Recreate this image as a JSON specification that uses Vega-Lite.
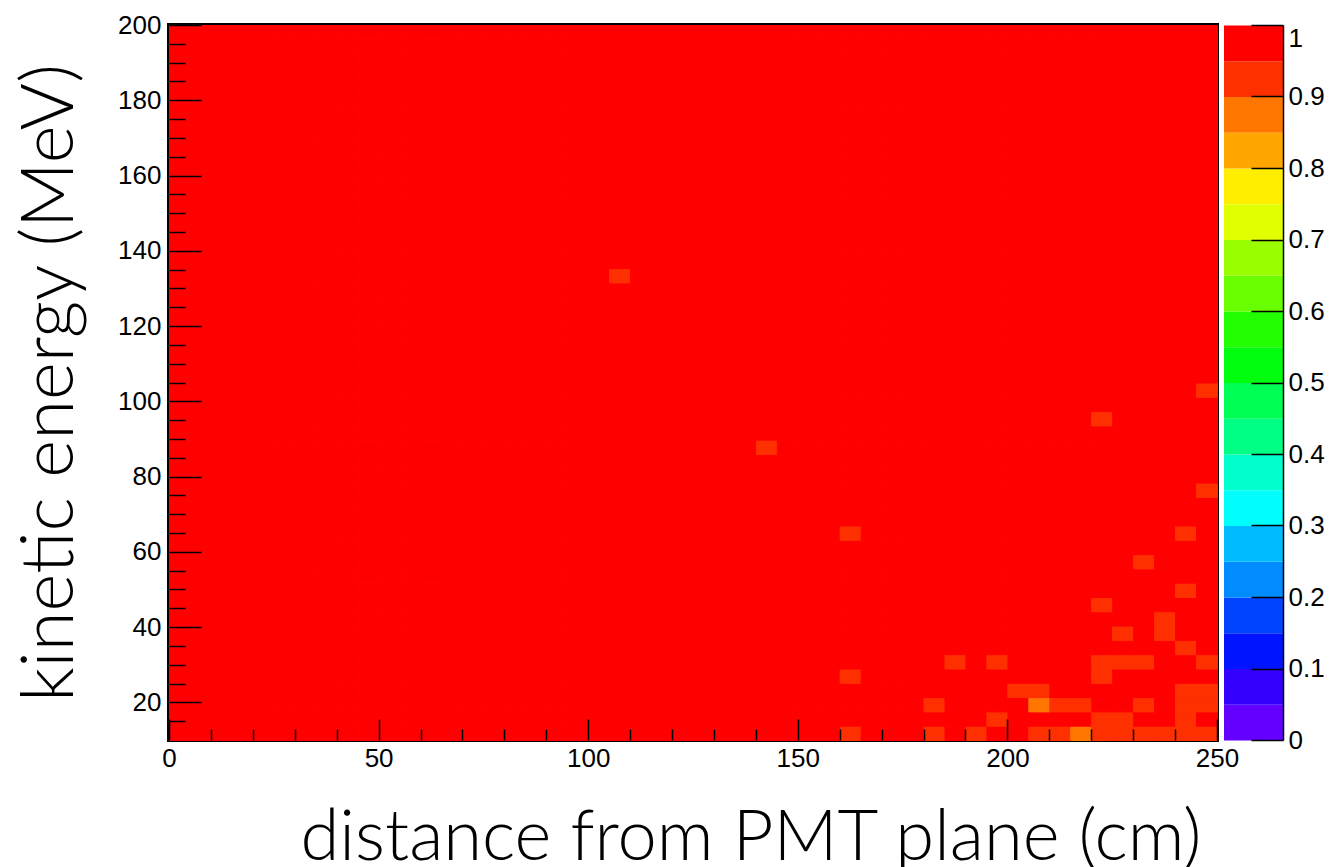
{
"$schema": "https://vega.github.io/schema/vega-lite/v6.json",
"background": "white",
"padding": {"left": 12, "top": 10, "right": 0, "bottom": 0},
"bounds": "flush",
"config": {"view": {"stroke": null}, "axis": {"labelFont": "Liberation Sans", "titleFont": "Lato", "titleFontWeight": 300, "labelColor": "black", "titleColor": "black", "tickColor": "black", "grid": false, "domain": false}},
"datasets": {
"bar": [{"lo":0},{"lo":0.05},{"lo":0.1},{"lo":0.15},{"lo":0.2},{"lo":0.25},{"lo":0.3},{"lo":0.35},{"lo":0.4},{"lo":0.45},{"lo":0.5},{"lo":0.55},{"lo":0.6},{"lo":0.65},{"lo":0.7},{"lo":0.75},{"lo":0.8},{"lo":0.85},{"lo":0.9},{"lo":0.95}],
"cells": [
{"x":0,"y":10,"v":1},{"x":5,"y":10,"v":1},{"x":10,"y":10,"v":1},{"x":15,"y":10,"v":1},{"x":20,"y":10,"v":1},{"x":25,"y":10,"v":1},{"x":30,"y":10,"v":1},{"x":35,"y":10,"v":1},{"x":40,"y":10,"v":1},{"x":45,"y":10,"v":1},{"x":50,"y":10,"v":1},{"x":55,"y":10,"v":1},{"x":60,"y":10,"v":1},{"x":65,"y":10,"v":1},{"x":70,"y":10,"v":1},{"x":75,"y":10,"v":1},{"x":80,"y":10,"v":1},{"x":85,"y":10,"v":1},{"x":90,"y":10,"v":1},{"x":95,"y":10,"v":1},{"x":100,"y":10,"v":1},{"x":105,"y":10,"v":1},{"x":110,"y":10,"v":1},{"x":115,"y":10,"v":1},{"x":120,"y":10,"v":1},{"x":125,"y":10,"v":1},{"x":130,"y":10,"v":1},{"x":135,"y":10,"v":1},{"x":140,"y":10,"v":1},{"x":145,"y":10,"v":1},{"x":150,"y":10,"v":1},{"x":155,"y":10,"v":1},{"x":160,"y":10,"v":0.93},{"x":165,"y":10,"v":1},{"x":170,"y":10,"v":1},{"x":175,"y":10,"v":1},{"x":180,"y":10,"v":0.93},{"x":185,"y":10,"v":1},{"x":190,"y":10,"v":0.93},{"x":195,"y":10,"v":1},{"x":200,"y":10,"v":1},{"x":205,"y":10,"v":0.93},{"x":210,"y":10,"v":0.93},{"x":215,"y":10,"v":0.88},{"x":220,"y":10,"v":0.93},{"x":225,"y":10,"v":0.93},{"x":230,"y":10,"v":0.93},{"x":235,"y":10,"v":0.93},{"x":240,"y":10,"v":0.93},{"x":245,"y":10,"v":0.93},
{"x":0,"y":13.8,"v":1},{"x":5,"y":13.8,"v":1},{"x":10,"y":13.8,"v":1},{"x":15,"y":13.8,"v":1},{"x":20,"y":13.8,"v":1},{"x":25,"y":13.8,"v":1},{"x":30,"y":13.8,"v":1},{"x":35,"y":13.8,"v":1},{"x":40,"y":13.8,"v":1},{"x":45,"y":13.8,"v":1},{"x":50,"y":13.8,"v":1},{"x":55,"y":13.8,"v":1},{"x":60,"y":13.8,"v":1},{"x":65,"y":13.8,"v":1},{"x":70,"y":13.8,"v":1},{"x":75,"y":13.8,"v":1},{"x":80,"y":13.8,"v":1},{"x":85,"y":13.8,"v":1},{"x":90,"y":13.8,"v":1},{"x":95,"y":13.8,"v":1},{"x":100,"y":13.8,"v":1},{"x":105,"y":13.8,"v":1},{"x":110,"y":13.8,"v":1},{"x":115,"y":13.8,"v":1},{"x":120,"y":13.8,"v":1},{"x":125,"y":13.8,"v":1},{"x":130,"y":13.8,"v":1},{"x":135,"y":13.8,"v":1},{"x":140,"y":13.8,"v":1},{"x":145,"y":13.8,"v":1},{"x":150,"y":13.8,"v":1},{"x":155,"y":13.8,"v":1},{"x":160,"y":13.8,"v":1},{"x":165,"y":13.8,"v":1},{"x":170,"y":13.8,"v":1},{"x":175,"y":13.8,"v":1},{"x":180,"y":13.8,"v":1},{"x":185,"y":13.8,"v":1},{"x":190,"y":13.8,"v":1},{"x":195,"y":13.8,"v":0.93},{"x":200,"y":13.8,"v":1},{"x":205,"y":13.8,"v":1},{"x":210,"y":13.8,"v":1},{"x":215,"y":13.8,"v":1},{"x":220,"y":13.8,"v":0.93},{"x":225,"y":13.8,"v":0.93},{"x":230,"y":13.8,"v":1},{"x":235,"y":13.8,"v":1},{"x":240,"y":13.8,"v":0.93},{"x":245,"y":13.8,"v":1},
{"x":0,"y":17.6,"v":1},{"x":5,"y":17.6,"v":1},{"x":10,"y":17.6,"v":1},{"x":15,"y":17.6,"v":1},{"x":20,"y":17.6,"v":1},{"x":25,"y":17.6,"v":1},{"x":30,"y":17.6,"v":1},{"x":35,"y":17.6,"v":1},{"x":40,"y":17.6,"v":1},{"x":45,"y":17.6,"v":1},{"x":50,"y":17.6,"v":1},{"x":55,"y":17.6,"v":1},{"x":60,"y":17.6,"v":1},{"x":65,"y":17.6,"v":1},{"x":70,"y":17.6,"v":1},{"x":75,"y":17.6,"v":1},{"x":80,"y":17.6,"v":1},{"x":85,"y":17.6,"v":1},{"x":90,"y":17.6,"v":1},{"x":95,"y":17.6,"v":1},{"x":100,"y":17.6,"v":1},{"x":105,"y":17.6,"v":1},{"x":110,"y":17.6,"v":1},{"x":115,"y":17.6,"v":1},{"x":120,"y":17.6,"v":1},{"x":125,"y":17.6,"v":1},{"x":130,"y":17.6,"v":1},{"x":135,"y":17.6,"v":1},{"x":140,"y":17.6,"v":1},{"x":145,"y":17.6,"v":1},{"x":150,"y":17.6,"v":1},{"x":155,"y":17.6,"v":1},{"x":160,"y":17.6,"v":1},{"x":165,"y":17.6,"v":1},{"x":170,"y":17.6,"v":1},{"x":175,"y":17.6,"v":1},{"x":180,"y":17.6,"v":0.93},{"x":185,"y":17.6,"v":1},{"x":190,"y":17.6,"v":1},{"x":195,"y":17.6,"v":1},{"x":200,"y":17.6,"v":1},{"x":205,"y":17.6,"v":0.88},{"x":210,"y":17.6,"v":0.93},{"x":215,"y":17.6,"v":0.93},{"x":220,"y":17.6,"v":1},{"x":225,"y":17.6,"v":1},{"x":230,"y":17.6,"v":0.93},{"x":235,"y":17.6,"v":1},{"x":240,"y":17.6,"v":0.93},{"x":245,"y":17.6,"v":0.93},
{"x":0,"y":21.4,"v":1},{"x":5,"y":21.4,"v":1},{"x":10,"y":21.4,"v":1},{"x":15,"y":21.4,"v":1},{"x":20,"y":21.4,"v":1},{"x":25,"y":21.4,"v":1},{"x":30,"y":21.4,"v":1},{"x":35,"y":21.4,"v":1},{"x":40,"y":21.4,"v":1},{"x":45,"y":21.4,"v":1},{"x":50,"y":21.4,"v":1},{"x":55,"y":21.4,"v":1},{"x":60,"y":21.4,"v":1},{"x":65,"y":21.4,"v":1},{"x":70,"y":21.4,"v":1},{"x":75,"y":21.4,"v":1},{"x":80,"y":21.4,"v":1},{"x":85,"y":21.4,"v":1},{"x":90,"y":21.4,"v":1},{"x":95,"y":21.4,"v":1},{"x":100,"y":21.4,"v":1},{"x":105,"y":21.4,"v":1},{"x":110,"y":21.4,"v":1},{"x":115,"y":21.4,"v":1},{"x":120,"y":21.4,"v":1},{"x":125,"y":21.4,"v":1},{"x":130,"y":21.4,"v":1},{"x":135,"y":21.4,"v":1},{"x":140,"y":21.4,"v":1},{"x":145,"y":21.4,"v":1},{"x":150,"y":21.4,"v":1},{"x":155,"y":21.4,"v":1},{"x":160,"y":21.4,"v":1},{"x":165,"y":21.4,"v":1},{"x":170,"y":21.4,"v":1},{"x":175,"y":21.4,"v":1},{"x":180,"y":21.4,"v":1},{"x":185,"y":21.4,"v":1},{"x":190,"y":21.4,"v":1},{"x":195,"y":21.4,"v":1},{"x":200,"y":21.4,"v":0.93},{"x":205,"y":21.4,"v":0.93},{"x":210,"y":21.4,"v":1},{"x":215,"y":21.4,"v":1},{"x":220,"y":21.4,"v":1},{"x":225,"y":21.4,"v":1},{"x":230,"y":21.4,"v":1},{"x":235,"y":21.4,"v":1},{"x":240,"y":21.4,"v":0.93},{"x":245,"y":21.4,"v":0.93},
{"x":0,"y":25.2,"v":1},{"x":5,"y":25.2,"v":1},{"x":10,"y":25.2,"v":1},{"x":15,"y":25.2,"v":1},{"x":20,"y":25.2,"v":1},{"x":25,"y":25.2,"v":1},{"x":30,"y":25.2,"v":1},{"x":35,"y":25.2,"v":1},{"x":40,"y":25.2,"v":1},{"x":45,"y":25.2,"v":1},{"x":50,"y":25.2,"v":1},{"x":55,"y":25.2,"v":1},{"x":60,"y":25.2,"v":1},{"x":65,"y":25.2,"v":1},{"x":70,"y":25.2,"v":1},{"x":75,"y":25.2,"v":1},{"x":80,"y":25.2,"v":1},{"x":85,"y":25.2,"v":1},{"x":90,"y":25.2,"v":1},{"x":95,"y":25.2,"v":1},{"x":100,"y":25.2,"v":1},{"x":105,"y":25.2,"v":1},{"x":110,"y":25.2,"v":1},{"x":115,"y":25.2,"v":1},{"x":120,"y":25.2,"v":1},{"x":125,"y":25.2,"v":1},{"x":130,"y":25.2,"v":1},{"x":135,"y":25.2,"v":1},{"x":140,"y":25.2,"v":1},{"x":145,"y":25.2,"v":1},{"x":150,"y":25.2,"v":1},{"x":155,"y":25.2,"v":1},{"x":160,"y":25.2,"v":0.93},{"x":165,"y":25.2,"v":1},{"x":170,"y":25.2,"v":1},{"x":175,"y":25.2,"v":1},{"x":180,"y":25.2,"v":1},{"x":185,"y":25.2,"v":1},{"x":190,"y":25.2,"v":1},{"x":195,"y":25.2,"v":1},{"x":200,"y":25.2,"v":1},{"x":205,"y":25.2,"v":1},{"x":210,"y":25.2,"v":1},{"x":215,"y":25.2,"v":1},{"x":220,"y":25.2,"v":0.93},{"x":225,"y":25.2,"v":1},{"x":230,"y":25.2,"v":1},{"x":235,"y":25.2,"v":1},{"x":240,"y":25.2,"v":1},{"x":245,"y":25.2,"v":1},
{"x":0,"y":29,"v":1},{"x":5,"y":29,"v":1},{"x":10,"y":29,"v":1},{"x":15,"y":29,"v":1},{"x":20,"y":29,"v":1},{"x":25,"y":29,"v":1},{"x":30,"y":29,"v":1},{"x":35,"y":29,"v":1},{"x":40,"y":29,"v":1},{"x":45,"y":29,"v":1},{"x":50,"y":29,"v":1},{"x":55,"y":29,"v":1},{"x":60,"y":29,"v":1},{"x":65,"y":29,"v":1},{"x":70,"y":29,"v":1},{"x":75,"y":29,"v":1},{"x":80,"y":29,"v":1},{"x":85,"y":29,"v":1},{"x":90,"y":29,"v":1},{"x":95,"y":29,"v":1},{"x":100,"y":29,"v":1},{"x":105,"y":29,"v":1},{"x":110,"y":29,"v":1},{"x":115,"y":29,"v":1},{"x":120,"y":29,"v":1},{"x":125,"y":29,"v":1},{"x":130,"y":29,"v":1},{"x":135,"y":29,"v":1},{"x":140,"y":29,"v":1},{"x":145,"y":29,"v":1},{"x":150,"y":29,"v":1},{"x":155,"y":29,"v":1},{"x":160,"y":29,"v":1},{"x":165,"y":29,"v":1},{"x":170,"y":29,"v":1},{"x":175,"y":29,"v":1},{"x":180,"y":29,"v":1},{"x":185,"y":29,"v":0.93},{"x":190,"y":29,"v":1},{"x":195,"y":29,"v":0.93},{"x":200,"y":29,"v":1},{"x":205,"y":29,"v":1},{"x":210,"y":29,"v":1},{"x":215,"y":29,"v":1},{"x":220,"y":29,"v":0.93},{"x":225,"y":29,"v":0.93},{"x":230,"y":29,"v":0.93},{"x":235,"y":29,"v":1},{"x":240,"y":29,"v":1},{"x":245,"y":29,"v":0.93},
{"x":0,"y":32.8,"v":1},{"x":5,"y":32.8,"v":1},{"x":10,"y":32.8,"v":1},{"x":15,"y":32.8,"v":1},{"x":20,"y":32.8,"v":1},{"x":25,"y":32.8,"v":1},{"x":30,"y":32.8,"v":1},{"x":35,"y":32.8,"v":1},{"x":40,"y":32.8,"v":1},{"x":45,"y":32.8,"v":1},{"x":50,"y":32.8,"v":1},{"x":55,"y":32.8,"v":1},{"x":60,"y":32.8,"v":1},{"x":65,"y":32.8,"v":1},{"x":70,"y":32.8,"v":1},{"x":75,"y":32.8,"v":1},{"x":80,"y":32.8,"v":1},{"x":85,"y":32.8,"v":1},{"x":90,"y":32.8,"v":1},{"x":95,"y":32.8,"v":1},{"x":100,"y":32.8,"v":1},{"x":105,"y":32.8,"v":1},{"x":110,"y":32.8,"v":1},{"x":115,"y":32.8,"v":1},{"x":120,"y":32.8,"v":1},{"x":125,"y":32.8,"v":1},{"x":130,"y":32.8,"v":1},{"x":135,"y":32.8,"v":1},{"x":140,"y":32.8,"v":1},{"x":145,"y":32.8,"v":1},{"x":150,"y":32.8,"v":1},{"x":155,"y":32.8,"v":1},{"x":160,"y":32.8,"v":1},{"x":165,"y":32.8,"v":1},{"x":170,"y":32.8,"v":1},{"x":175,"y":32.8,"v":1},{"x":180,"y":32.8,"v":1},{"x":185,"y":32.8,"v":1},{"x":190,"y":32.8,"v":1},{"x":195,"y":32.8,"v":1},{"x":200,"y":32.8,"v":1},{"x":205,"y":32.8,"v":1},{"x":210,"y":32.8,"v":1},{"x":215,"y":32.8,"v":1},{"x":220,"y":32.8,"v":1},{"x":225,"y":32.8,"v":1},{"x":230,"y":32.8,"v":1},{"x":235,"y":32.8,"v":1},{"x":240,"y":32.8,"v":0.93},{"x":245,"y":32.8,"v":1},
{"x":0,"y":36.6,"v":1},{"x":5,"y":36.6,"v":1},{"x":10,"y":36.6,"v":1},{"x":15,"y":36.6,"v":1},{"x":20,"y":36.6,"v":1},{"x":25,"y":36.6,"v":1},{"x":30,"y":36.6,"v":1},{"x":35,"y":36.6,"v":1},{"x":40,"y":36.6,"v":1},{"x":45,"y":36.6,"v":1},{"x":50,"y":36.6,"v":1},{"x":55,"y":36.6,"v":1},{"x":60,"y":36.6,"v":1},{"x":65,"y":36.6,"v":1},{"x":70,"y":36.6,"v":1},{"x":75,"y":36.6,"v":1},{"x":80,"y":36.6,"v":1},{"x":85,"y":36.6,"v":1},{"x":90,"y":36.6,"v":1},{"x":95,"y":36.6,"v":1},{"x":100,"y":36.6,"v":1},{"x":105,"y":36.6,"v":1},{"x":110,"y":36.6,"v":1},{"x":115,"y":36.6,"v":1},{"x":120,"y":36.6,"v":1},{"x":125,"y":36.6,"v":1},{"x":130,"y":36.6,"v":1},{"x":135,"y":36.6,"v":1},{"x":140,"y":36.6,"v":1},{"x":145,"y":36.6,"v":1},{"x":150,"y":36.6,"v":1},{"x":155,"y":36.6,"v":1},{"x":160,"y":36.6,"v":1},{"x":165,"y":36.6,"v":1},{"x":170,"y":36.6,"v":1},{"x":175,"y":36.6,"v":1},{"x":180,"y":36.6,"v":1},{"x":185,"y":36.6,"v":1},{"x":190,"y":36.6,"v":1},{"x":195,"y":36.6,"v":1},{"x":200,"y":36.6,"v":1},{"x":205,"y":36.6,"v":1},{"x":210,"y":36.6,"v":1},{"x":215,"y":36.6,"v":1},{"x":220,"y":36.6,"v":1},{"x":225,"y":36.6,"v":0.93},{"x":230,"y":36.6,"v":1},{"x":235,"y":36.6,"v":0.93},{"x":240,"y":36.6,"v":1},{"x":245,"y":36.6,"v":1},
{"x":0,"y":40.4,"v":1},{"x":5,"y":40.4,"v":1},{"x":10,"y":40.4,"v":1},{"x":15,"y":40.4,"v":1},{"x":20,"y":40.4,"v":1},{"x":25,"y":40.4,"v":1},{"x":30,"y":40.4,"v":1},{"x":35,"y":40.4,"v":1},{"x":40,"y":40.4,"v":1},{"x":45,"y":40.4,"v":1},{"x":50,"y":40.4,"v":1},{"x":55,"y":40.4,"v":1},{"x":60,"y":40.4,"v":1},{"x":65,"y":40.4,"v":1},{"x":70,"y":40.4,"v":1},{"x":75,"y":40.4,"v":1},{"x":80,"y":40.4,"v":1},{"x":85,"y":40.4,"v":1},{"x":90,"y":40.4,"v":1},{"x":95,"y":40.4,"v":1},{"x":100,"y":40.4,"v":1},{"x":105,"y":40.4,"v":1},{"x":110,"y":40.4,"v":1},{"x":115,"y":40.4,"v":1},{"x":120,"y":40.4,"v":1},{"x":125,"y":40.4,"v":1},{"x":130,"y":40.4,"v":1},{"x":135,"y":40.4,"v":1},{"x":140,"y":40.4,"v":1},{"x":145,"y":40.4,"v":1},{"x":150,"y":40.4,"v":1},{"x":155,"y":40.4,"v":1},{"x":160,"y":40.4,"v":1},{"x":165,"y":40.4,"v":1},{"x":170,"y":40.4,"v":1},{"x":175,"y":40.4,"v":1},{"x":180,"y":40.4,"v":1},{"x":185,"y":40.4,"v":1},{"x":190,"y":40.4,"v":1},{"x":195,"y":40.4,"v":1},{"x":200,"y":40.4,"v":1},{"x":205,"y":40.4,"v":1},{"x":210,"y":40.4,"v":1},{"x":215,"y":40.4,"v":1},{"x":220,"y":40.4,"v":1},{"x":225,"y":40.4,"v":1},{"x":230,"y":40.4,"v":1},{"x":235,"y":40.4,"v":0.93},{"x":240,"y":40.4,"v":1},{"x":245,"y":40.4,"v":1},
{"x":0,"y":44.2,"v":1},{"x":5,"y":44.2,"v":1},{"x":10,"y":44.2,"v":1},{"x":15,"y":44.2,"v":1},{"x":20,"y":44.2,"v":1},{"x":25,"y":44.2,"v":1},{"x":30,"y":44.2,"v":1},{"x":35,"y":44.2,"v":1},{"x":40,"y":44.2,"v":1},{"x":45,"y":44.2,"v":1},{"x":50,"y":44.2,"v":1},{"x":55,"y":44.2,"v":1},{"x":60,"y":44.2,"v":1},{"x":65,"y":44.2,"v":1},{"x":70,"y":44.2,"v":1},{"x":75,"y":44.2,"v":1},{"x":80,"y":44.2,"v":1},{"x":85,"y":44.2,"v":1},{"x":90,"y":44.2,"v":1},{"x":95,"y":44.2,"v":1},{"x":100,"y":44.2,"v":1},{"x":105,"y":44.2,"v":1},{"x":110,"y":44.2,"v":1},{"x":115,"y":44.2,"v":1},{"x":120,"y":44.2,"v":1},{"x":125,"y":44.2,"v":1},{"x":130,"y":44.2,"v":1},{"x":135,"y":44.2,"v":1},{"x":140,"y":44.2,"v":1},{"x":145,"y":44.2,"v":1},{"x":150,"y":44.2,"v":1},{"x":155,"y":44.2,"v":1},{"x":160,"y":44.2,"v":1},{"x":165,"y":44.2,"v":1},{"x":170,"y":44.2,"v":1},{"x":175,"y":44.2,"v":1},{"x":180,"y":44.2,"v":1},{"x":185,"y":44.2,"v":1},{"x":190,"y":44.2,"v":1},{"x":195,"y":44.2,"v":1},{"x":200,"y":44.2,"v":1},{"x":205,"y":44.2,"v":1},{"x":210,"y":44.2,"v":1},{"x":215,"y":44.2,"v":1},{"x":220,"y":44.2,"v":0.93},{"x":225,"y":44.2,"v":1},{"x":230,"y":44.2,"v":1},{"x":235,"y":44.2,"v":1},{"x":240,"y":44.2,"v":1},{"x":245,"y":44.2,"v":1},
{"x":0,"y":48,"v":1},{"x":5,"y":48,"v":1},{"x":10,"y":48,"v":1},{"x":15,"y":48,"v":1},{"x":20,"y":48,"v":1},{"x":25,"y":48,"v":1},{"x":30,"y":48,"v":1},{"x":35,"y":48,"v":1},{"x":40,"y":48,"v":1},{"x":45,"y":48,"v":1},{"x":50,"y":48,"v":1},{"x":55,"y":48,"v":1},{"x":60,"y":48,"v":1},{"x":65,"y":48,"v":1},{"x":70,"y":48,"v":1},{"x":75,"y":48,"v":1},{"x":80,"y":48,"v":1},{"x":85,"y":48,"v":1},{"x":90,"y":48,"v":1},{"x":95,"y":48,"v":1},{"x":100,"y":48,"v":1},{"x":105,"y":48,"v":1},{"x":110,"y":48,"v":1},{"x":115,"y":48,"v":1},{"x":120,"y":48,"v":1},{"x":125,"y":48,"v":1},{"x":130,"y":48,"v":1},{"x":135,"y":48,"v":1},{"x":140,"y":48,"v":1},{"x":145,"y":48,"v":1},{"x":150,"y":48,"v":1},{"x":155,"y":48,"v":1},{"x":160,"y":48,"v":1},{"x":165,"y":48,"v":1},{"x":170,"y":48,"v":1},{"x":175,"y":48,"v":1},{"x":180,"y":48,"v":1},{"x":185,"y":48,"v":1},{"x":190,"y":48,"v":1},{"x":195,"y":48,"v":1},{"x":200,"y":48,"v":1},{"x":205,"y":48,"v":1},{"x":210,"y":48,"v":1},{"x":215,"y":48,"v":1},{"x":220,"y":48,"v":1},{"x":225,"y":48,"v":1},{"x":230,"y":48,"v":1},{"x":235,"y":48,"v":1},{"x":240,"y":48,"v":0.93},{"x":245,"y":48,"v":1},
{"x":0,"y":51.8,"v":1},{"x":5,"y":51.8,"v":1},{"x":10,"y":51.8,"v":1},{"x":15,"y":51.8,"v":1},{"x":20,"y":51.8,"v":1},{"x":25,"y":51.8,"v":1},{"x":30,"y":51.8,"v":1},{"x":35,"y":51.8,"v":1},{"x":40,"y":51.8,"v":1},{"x":45,"y":51.8,"v":1},{"x":50,"y":51.8,"v":1},{"x":55,"y":51.8,"v":1},{"x":60,"y":51.8,"v":1},{"x":65,"y":51.8,"v":1},{"x":70,"y":51.8,"v":1},{"x":75,"y":51.8,"v":1},{"x":80,"y":51.8,"v":1},{"x":85,"y":51.8,"v":1},{"x":90,"y":51.8,"v":1},{"x":95,"y":51.8,"v":1},{"x":100,"y":51.8,"v":1},{"x":105,"y":51.8,"v":1},{"x":110,"y":51.8,"v":1},{"x":115,"y":51.8,"v":1},{"x":120,"y":51.8,"v":1},{"x":125,"y":51.8,"v":1},{"x":130,"y":51.8,"v":1},{"x":135,"y":51.8,"v":1},{"x":140,"y":51.8,"v":1},{"x":145,"y":51.8,"v":1},{"x":150,"y":51.8,"v":1},{"x":155,"y":51.8,"v":1},{"x":160,"y":51.8,"v":1},{"x":165,"y":51.8,"v":1},{"x":170,"y":51.8,"v":1},{"x":175,"y":51.8,"v":1},{"x":180,"y":51.8,"v":1},{"x":185,"y":51.8,"v":1},{"x":190,"y":51.8,"v":1},{"x":195,"y":51.8,"v":1},{"x":200,"y":51.8,"v":1},{"x":205,"y":51.8,"v":1},{"x":210,"y":51.8,"v":1},{"x":215,"y":51.8,"v":1},{"x":220,"y":51.8,"v":1},{"x":225,"y":51.8,"v":1},{"x":230,"y":51.8,"v":1},{"x":235,"y":51.8,"v":1},{"x":240,"y":51.8,"v":1},{"x":245,"y":51.8,"v":1},
{"x":0,"y":55.6,"v":1},{"x":5,"y":55.6,"v":1},{"x":10,"y":55.6,"v":1},{"x":15,"y":55.6,"v":1},{"x":20,"y":55.6,"v":1},{"x":25,"y":55.6,"v":1},{"x":30,"y":55.6,"v":1},{"x":35,"y":55.6,"v":1},{"x":40,"y":55.6,"v":1},{"x":45,"y":55.6,"v":1},{"x":50,"y":55.6,"v":1},{"x":55,"y":55.6,"v":1},{"x":60,"y":55.6,"v":1},{"x":65,"y":55.6,"v":1},{"x":70,"y":55.6,"v":1},{"x":75,"y":55.6,"v":1},{"x":80,"y":55.6,"v":1},{"x":85,"y":55.6,"v":1},{"x":90,"y":55.6,"v":1},{"x":95,"y":55.6,"v":1},{"x":100,"y":55.6,"v":1},{"x":105,"y":55.6,"v":1},{"x":110,"y":55.6,"v":1},{"x":115,"y":55.6,"v":1},{"x":120,"y":55.6,"v":1},{"x":125,"y":55.6,"v":1},{"x":130,"y":55.6,"v":1},{"x":135,"y":55.6,"v":1},{"x":140,"y":55.6,"v":1},{"x":145,"y":55.6,"v":1},{"x":150,"y":55.6,"v":1},{"x":155,"y":55.6,"v":1},{"x":160,"y":55.6,"v":1},{"x":165,"y":55.6,"v":1},{"x":170,"y":55.6,"v":1},{"x":175,"y":55.6,"v":1},{"x":180,"y":55.6,"v":1},{"x":185,"y":55.6,"v":1},{"x":190,"y":55.6,"v":1},{"x":195,"y":55.6,"v":1},{"x":200,"y":55.6,"v":1},{"x":205,"y":55.6,"v":1},{"x":210,"y":55.6,"v":1},{"x":215,"y":55.6,"v":1},{"x":220,"y":55.6,"v":1},{"x":225,"y":55.6,"v":1},{"x":230,"y":55.6,"v":0.93},{"x":235,"y":55.6,"v":1},{"x":240,"y":55.6,"v":1},{"x":245,"y":55.6,"v":1},
{"x":0,"y":59.4,"v":1},{"x":5,"y":59.4,"v":1},{"x":10,"y":59.4,"v":1},{"x":15,"y":59.4,"v":1},{"x":20,"y":59.4,"v":1},{"x":25,"y":59.4,"v":1},{"x":30,"y":59.4,"v":1},{"x":35,"y":59.4,"v":1},{"x":40,"y":59.4,"v":1},{"x":45,"y":59.4,"v":1},{"x":50,"y":59.4,"v":1},{"x":55,"y":59.4,"v":1},{"x":60,"y":59.4,"v":1},{"x":65,"y":59.4,"v":1},{"x":70,"y":59.4,"v":1},{"x":75,"y":59.4,"v":1},{"x":80,"y":59.4,"v":1},{"x":85,"y":59.4,"v":1},{"x":90,"y":59.4,"v":1},{"x":95,"y":59.4,"v":1},{"x":100,"y":59.4,"v":1},{"x":105,"y":59.4,"v":1},{"x":110,"y":59.4,"v":1},{"x":115,"y":59.4,"v":1},{"x":120,"y":59.4,"v":1},{"x":125,"y":59.4,"v":1},{"x":130,"y":59.4,"v":1},{"x":135,"y":59.4,"v":1},{"x":140,"y":59.4,"v":1},{"x":145,"y":59.4,"v":1},{"x":150,"y":59.4,"v":1},{"x":155,"y":59.4,"v":1},{"x":160,"y":59.4,"v":1},{"x":165,"y":59.4,"v":1},{"x":170,"y":59.4,"v":1},{"x":175,"y":59.4,"v":1},{"x":180,"y":59.4,"v":1},{"x":185,"y":59.4,"v":1},{"x":190,"y":59.4,"v":1},{"x":195,"y":59.4,"v":1},{"x":200,"y":59.4,"v":1},{"x":205,"y":59.4,"v":1},{"x":210,"y":59.4,"v":1},{"x":215,"y":59.4,"v":1},{"x":220,"y":59.4,"v":1},{"x":225,"y":59.4,"v":1},{"x":230,"y":59.4,"v":1},{"x":235,"y":59.4,"v":1},{"x":240,"y":59.4,"v":1},{"x":245,"y":59.4,"v":1},
{"x":0,"y":63.2,"v":1},{"x":5,"y":63.2,"v":1},{"x":10,"y":63.2,"v":1},{"x":15,"y":63.2,"v":1},{"x":20,"y":63.2,"v":1},{"x":25,"y":63.2,"v":1},{"x":30,"y":63.2,"v":1},{"x":35,"y":63.2,"v":1},{"x":40,"y":63.2,"v":1},{"x":45,"y":63.2,"v":1},{"x":50,"y":63.2,"v":1},{"x":55,"y":63.2,"v":1},{"x":60,"y":63.2,"v":1},{"x":65,"y":63.2,"v":1},{"x":70,"y":63.2,"v":1},{"x":75,"y":63.2,"v":1},{"x":80,"y":63.2,"v":1},{"x":85,"y":63.2,"v":1},{"x":90,"y":63.2,"v":1},{"x":95,"y":63.2,"v":1},{"x":100,"y":63.2,"v":1},{"x":105,"y":63.2,"v":1},{"x":110,"y":63.2,"v":1},{"x":115,"y":63.2,"v":1},{"x":120,"y":63.2,"v":1},{"x":125,"y":63.2,"v":1},{"x":130,"y":63.2,"v":1},{"x":135,"y":63.2,"v":1},{"x":140,"y":63.2,"v":1},{"x":145,"y":63.2,"v":1},{"x":150,"y":63.2,"v":1},{"x":155,"y":63.2,"v":1},{"x":160,"y":63.2,"v":0.93},{"x":165,"y":63.2,"v":1},{"x":170,"y":63.2,"v":1},{"x":175,"y":63.2,"v":1},{"x":180,"y":63.2,"v":1},{"x":185,"y":63.2,"v":1},{"x":190,"y":63.2,"v":1},{"x":195,"y":63.2,"v":1},{"x":200,"y":63.2,"v":1},{"x":205,"y":63.2,"v":1},{"x":210,"y":63.2,"v":1},{"x":215,"y":63.2,"v":1},{"x":220,"y":63.2,"v":1},{"x":225,"y":63.2,"v":1},{"x":230,"y":63.2,"v":1},{"x":235,"y":63.2,"v":1},{"x":240,"y":63.2,"v":0.93},{"x":245,"y":63.2,"v":1},
{"x":0,"y":67,"v":1},{"x":5,"y":67,"v":1},{"x":10,"y":67,"v":1},{"x":15,"y":67,"v":1},{"x":20,"y":67,"v":1},{"x":25,"y":67,"v":1},{"x":30,"y":67,"v":1},{"x":35,"y":67,"v":1},{"x":40,"y":67,"v":1},{"x":45,"y":67,"v":1},{"x":50,"y":67,"v":1},{"x":55,"y":67,"v":1},{"x":60,"y":67,"v":1},{"x":65,"y":67,"v":1},{"x":70,"y":67,"v":1},{"x":75,"y":67,"v":1},{"x":80,"y":67,"v":1},{"x":85,"y":67,"v":1},{"x":90,"y":67,"v":1},{"x":95,"y":67,"v":1},{"x":100,"y":67,"v":1},{"x":105,"y":67,"v":1},{"x":110,"y":67,"v":1},{"x":115,"y":67,"v":1},{"x":120,"y":67,"v":1},{"x":125,"y":67,"v":1},{"x":130,"y":67,"v":1},{"x":135,"y":67,"v":1},{"x":140,"y":67,"v":1},{"x":145,"y":67,"v":1},{"x":150,"y":67,"v":1},{"x":155,"y":67,"v":1},{"x":160,"y":67,"v":1},{"x":165,"y":67,"v":1},{"x":170,"y":67,"v":1},{"x":175,"y":67,"v":1},{"x":180,"y":67,"v":1},{"x":185,"y":67,"v":1},{"x":190,"y":67,"v":1},{"x":195,"y":67,"v":1},{"x":200,"y":67,"v":1},{"x":205,"y":67,"v":1},{"x":210,"y":67,"v":1},{"x":215,"y":67,"v":1},{"x":220,"y":67,"v":1},{"x":225,"y":67,"v":1},{"x":230,"y":67,"v":1},{"x":235,"y":67,"v":1},{"x":240,"y":67,"v":1},{"x":245,"y":67,"v":1},
{"x":0,"y":70.8,"v":1},{"x":5,"y":70.8,"v":1},{"x":10,"y":70.8,"v":1},{"x":15,"y":70.8,"v":1},{"x":20,"y":70.8,"v":1},{"x":25,"y":70.8,"v":1},{"x":30,"y":70.8,"v":1},{"x":35,"y":70.8,"v":1},{"x":40,"y":70.8,"v":1},{"x":45,"y":70.8,"v":1},{"x":50,"y":70.8,"v":1},{"x":55,"y":70.8,"v":1},{"x":60,"y":70.8,"v":1},{"x":65,"y":70.8,"v":1},{"x":70,"y":70.8,"v":1},{"x":75,"y":70.8,"v":1},{"x":80,"y":70.8,"v":1},{"x":85,"y":70.8,"v":1},{"x":90,"y":70.8,"v":1},{"x":95,"y":70.8,"v":1},{"x":100,"y":70.8,"v":1},{"x":105,"y":70.8,"v":1},{"x":110,"y":70.8,"v":1},{"x":115,"y":70.8,"v":1},{"x":120,"y":70.8,"v":1},{"x":125,"y":70.8,"v":1},{"x":130,"y":70.8,"v":1},{"x":135,"y":70.8,"v":1},{"x":140,"y":70.8,"v":1},{"x":145,"y":70.8,"v":1},{"x":150,"y":70.8,"v":1},{"x":155,"y":70.8,"v":1},{"x":160,"y":70.8,"v":1},{"x":165,"y":70.8,"v":1},{"x":170,"y":70.8,"v":1},{"x":175,"y":70.8,"v":1},{"x":180,"y":70.8,"v":1},{"x":185,"y":70.8,"v":1},{"x":190,"y":70.8,"v":1},{"x":195,"y":70.8,"v":1},{"x":200,"y":70.8,"v":1},{"x":205,"y":70.8,"v":1},{"x":210,"y":70.8,"v":1},{"x":215,"y":70.8,"v":1},{"x":220,"y":70.8,"v":1},{"x":225,"y":70.8,"v":1},{"x":230,"y":70.8,"v":1},{"x":235,"y":70.8,"v":1},{"x":240,"y":70.8,"v":1},{"x":245,"y":70.8,"v":1},
{"x":0,"y":74.6,"v":1},{"x":5,"y":74.6,"v":1},{"x":10,"y":74.6,"v":1},{"x":15,"y":74.6,"v":1},{"x":20,"y":74.6,"v":1},{"x":25,"y":74.6,"v":1},{"x":30,"y":74.6,"v":1},{"x":35,"y":74.6,"v":1},{"x":40,"y":74.6,"v":1},{"x":45,"y":74.6,"v":1},{"x":50,"y":74.6,"v":1},{"x":55,"y":74.6,"v":1},{"x":60,"y":74.6,"v":1},{"x":65,"y":74.6,"v":1},{"x":70,"y":74.6,"v":1},{"x":75,"y":74.6,"v":1},{"x":80,"y":74.6,"v":1},{"x":85,"y":74.6,"v":1},{"x":90,"y":74.6,"v":1},{"x":95,"y":74.6,"v":1},{"x":100,"y":74.6,"v":1},{"x":105,"y":74.6,"v":1},{"x":110,"y":74.6,"v":1},{"x":115,"y":74.6,"v":1},{"x":120,"y":74.6,"v":1},{"x":125,"y":74.6,"v":1},{"x":130,"y":74.6,"v":1},{"x":135,"y":74.6,"v":1},{"x":140,"y":74.6,"v":1},{"x":145,"y":74.6,"v":1},{"x":150,"y":74.6,"v":1},{"x":155,"y":74.6,"v":1},{"x":160,"y":74.6,"v":1},{"x":165,"y":74.6,"v":1},{"x":170,"y":74.6,"v":1},{"x":175,"y":74.6,"v":1},{"x":180,"y":74.6,"v":1},{"x":185,"y":74.6,"v":1},{"x":190,"y":74.6,"v":1},{"x":195,"y":74.6,"v":1},{"x":200,"y":74.6,"v":1},{"x":205,"y":74.6,"v":1},{"x":210,"y":74.6,"v":1},{"x":215,"y":74.6,"v":1},{"x":220,"y":74.6,"v":1},{"x":225,"y":74.6,"v":1},{"x":230,"y":74.6,"v":1},{"x":235,"y":74.6,"v":1},{"x":240,"y":74.6,"v":1},{"x":245,"y":74.6,"v":0.93},
{"x":0,"y":78.4,"v":1},{"x":5,"y":78.4,"v":1},{"x":10,"y":78.4,"v":1},{"x":15,"y":78.4,"v":1},{"x":20,"y":78.4,"v":1},{"x":25,"y":78.4,"v":1},{"x":30,"y":78.4,"v":1},{"x":35,"y":78.4,"v":1},{"x":40,"y":78.4,"v":1},{"x":45,"y":78.4,"v":1},{"x":50,"y":78.4,"v":1},{"x":55,"y":78.4,"v":1},{"x":60,"y":78.4,"v":1},{"x":65,"y":78.4,"v":1},{"x":70,"y":78.4,"v":1},{"x":75,"y":78.4,"v":1},{"x":80,"y":78.4,"v":1},{"x":85,"y":78.4,"v":1},{"x":90,"y":78.4,"v":1},{"x":95,"y":78.4,"v":1},{"x":100,"y":78.4,"v":1},{"x":105,"y":78.4,"v":1},{"x":110,"y":78.4,"v":1},{"x":115,"y":78.4,"v":1},{"x":120,"y":78.4,"v":1},{"x":125,"y":78.4,"v":1},{"x":130,"y":78.4,"v":1},{"x":135,"y":78.4,"v":1},{"x":140,"y":78.4,"v":1},{"x":145,"y":78.4,"v":1},{"x":150,"y":78.4,"v":1},{"x":155,"y":78.4,"v":1},{"x":160,"y":78.4,"v":1},{"x":165,"y":78.4,"v":1},{"x":170,"y":78.4,"v":1},{"x":175,"y":78.4,"v":1},{"x":180,"y":78.4,"v":1},{"x":185,"y":78.4,"v":1},{"x":190,"y":78.4,"v":1},{"x":195,"y":78.4,"v":1},{"x":200,"y":78.4,"v":1},{"x":205,"y":78.4,"v":1},{"x":210,"y":78.4,"v":1},{"x":215,"y":78.4,"v":1},{"x":220,"y":78.4,"v":1},{"x":225,"y":78.4,"v":1},{"x":230,"y":78.4,"v":1},{"x":235,"y":78.4,"v":1},{"x":240,"y":78.4,"v":1},{"x":245,"y":78.4,"v":1},
{"x":0,"y":82.2,"v":1},{"x":5,"y":82.2,"v":1},{"x":10,"y":82.2,"v":1},{"x":15,"y":82.2,"v":1},{"x":20,"y":82.2,"v":1},{"x":25,"y":82.2,"v":1},{"x":30,"y":82.2,"v":1},{"x":35,"y":82.2,"v":1},{"x":40,"y":82.2,"v":1},{"x":45,"y":82.2,"v":1},{"x":50,"y":82.2,"v":1},{"x":55,"y":82.2,"v":1},{"x":60,"y":82.2,"v":1},{"x":65,"y":82.2,"v":1},{"x":70,"y":82.2,"v":1},{"x":75,"y":82.2,"v":1},{"x":80,"y":82.2,"v":1},{"x":85,"y":82.2,"v":1},{"x":90,"y":82.2,"v":1},{"x":95,"y":82.2,"v":1},{"x":100,"y":82.2,"v":1},{"x":105,"y":82.2,"v":1},{"x":110,"y":82.2,"v":1},{"x":115,"y":82.2,"v":1},{"x":120,"y":82.2,"v":1},{"x":125,"y":82.2,"v":1},{"x":130,"y":82.2,"v":1},{"x":135,"y":82.2,"v":1},{"x":140,"y":82.2,"v":1},{"x":145,"y":82.2,"v":1},{"x":150,"y":82.2,"v":1},{"x":155,"y":82.2,"v":1},{"x":160,"y":82.2,"v":1},{"x":165,"y":82.2,"v":1},{"x":170,"y":82.2,"v":1},{"x":175,"y":82.2,"v":1},{"x":180,"y":82.2,"v":1},{"x":185,"y":82.2,"v":1},{"x":190,"y":82.2,"v":1},{"x":195,"y":82.2,"v":1},{"x":200,"y":82.2,"v":1},{"x":205,"y":82.2,"v":1},{"x":210,"y":82.2,"v":1},{"x":215,"y":82.2,"v":1},{"x":220,"y":82.2,"v":1},{"x":225,"y":82.2,"v":1},{"x":230,"y":82.2,"v":1},{"x":235,"y":82.2,"v":1},{"x":240,"y":82.2,"v":1},{"x":245,"y":82.2,"v":1},
{"x":0,"y":86,"v":1},{"x":5,"y":86,"v":1},{"x":10,"y":86,"v":1},{"x":15,"y":86,"v":1},{"x":20,"y":86,"v":1},{"x":25,"y":86,"v":1},{"x":30,"y":86,"v":1},{"x":35,"y":86,"v":1},{"x":40,"y":86,"v":1},{"x":45,"y":86,"v":1},{"x":50,"y":86,"v":1},{"x":55,"y":86,"v":1},{"x":60,"y":86,"v":1},{"x":65,"y":86,"v":1},{"x":70,"y":86,"v":1},{"x":75,"y":86,"v":1},{"x":80,"y":86,"v":1},{"x":85,"y":86,"v":1},{"x":90,"y":86,"v":1},{"x":95,"y":86,"v":1},{"x":100,"y":86,"v":1},{"x":105,"y":86,"v":1},{"x":110,"y":86,"v":1},{"x":115,"y":86,"v":1},{"x":120,"y":86,"v":1},{"x":125,"y":86,"v":1},{"x":130,"y":86,"v":1},{"x":135,"y":86,"v":1},{"x":140,"y":86,"v":0.93},{"x":145,"y":86,"v":1},{"x":150,"y":86,"v":1},{"x":155,"y":86,"v":1},{"x":160,"y":86,"v":1},{"x":165,"y":86,"v":1},{"x":170,"y":86,"v":1},{"x":175,"y":86,"v":1},{"x":180,"y":86,"v":1},{"x":185,"y":86,"v":1},{"x":190,"y":86,"v":1},{"x":195,"y":86,"v":1},{"x":200,"y":86,"v":1},{"x":205,"y":86,"v":1},{"x":210,"y":86,"v":1},{"x":215,"y":86,"v":1},{"x":220,"y":86,"v":1},{"x":225,"y":86,"v":1},{"x":230,"y":86,"v":1},{"x":235,"y":86,"v":1},{"x":240,"y":86,"v":1},{"x":245,"y":86,"v":1},
{"x":0,"y":89.8,"v":1},{"x":5,"y":89.8,"v":1},{"x":10,"y":89.8,"v":1},{"x":15,"y":89.8,"v":1},{"x":20,"y":89.8,"v":1},{"x":25,"y":89.8,"v":1},{"x":30,"y":89.8,"v":1},{"x":35,"y":89.8,"v":1},{"x":40,"y":89.8,"v":1},{"x":45,"y":89.8,"v":1},{"x":50,"y":89.8,"v":1},{"x":55,"y":89.8,"v":1},{"x":60,"y":89.8,"v":1},{"x":65,"y":89.8,"v":1},{"x":70,"y":89.8,"v":1},{"x":75,"y":89.8,"v":1},{"x":80,"y":89.8,"v":1},{"x":85,"y":89.8,"v":1},{"x":90,"y":89.8,"v":1},{"x":95,"y":89.8,"v":1},{"x":100,"y":89.8,"v":1},{"x":105,"y":89.8,"v":1},{"x":110,"y":89.8,"v":1},{"x":115,"y":89.8,"v":1},{"x":120,"y":89.8,"v":1},{"x":125,"y":89.8,"v":1},{"x":130,"y":89.8,"v":1},{"x":135,"y":89.8,"v":1},{"x":140,"y":89.8,"v":1},{"x":145,"y":89.8,"v":1},{"x":150,"y":89.8,"v":1},{"x":155,"y":89.8,"v":1},{"x":160,"y":89.8,"v":1},{"x":165,"y":89.8,"v":1},{"x":170,"y":89.8,"v":1},{"x":175,"y":89.8,"v":1},{"x":180,"y":89.8,"v":1},{"x":185,"y":89.8,"v":1},{"x":190,"y":89.8,"v":1},{"x":195,"y":89.8,"v":1},{"x":200,"y":89.8,"v":1},{"x":205,"y":89.8,"v":1},{"x":210,"y":89.8,"v":1},{"x":215,"y":89.8,"v":1},{"x":220,"y":89.8,"v":1},{"x":225,"y":89.8,"v":1},{"x":230,"y":89.8,"v":1},{"x":235,"y":89.8,"v":1},{"x":240,"y":89.8,"v":1},{"x":245,"y":89.8,"v":1},
{"x":0,"y":93.6,"v":1},{"x":5,"y":93.6,"v":1},{"x":10,"y":93.6,"v":1},{"x":15,"y":93.6,"v":1},{"x":20,"y":93.6,"v":1},{"x":25,"y":93.6,"v":1},{"x":30,"y":93.6,"v":1},{"x":35,"y":93.6,"v":1},{"x":40,"y":93.6,"v":1},{"x":45,"y":93.6,"v":1},{"x":50,"y":93.6,"v":1},{"x":55,"y":93.6,"v":1},{"x":60,"y":93.6,"v":1},{"x":65,"y":93.6,"v":1},{"x":70,"y":93.6,"v":1},{"x":75,"y":93.6,"v":1},{"x":80,"y":93.6,"v":1},{"x":85,"y":93.6,"v":1},{"x":90,"y":93.6,"v":1},{"x":95,"y":93.6,"v":1},{"x":100,"y":93.6,"v":1},{"x":105,"y":93.6,"v":1},{"x":110,"y":93.6,"v":1},{"x":115,"y":93.6,"v":1},{"x":120,"y":93.6,"v":1},{"x":125,"y":93.6,"v":1},{"x":130,"y":93.6,"v":1},{"x":135,"y":93.6,"v":1},{"x":140,"y":93.6,"v":1},{"x":145,"y":93.6,"v":1},{"x":150,"y":93.6,"v":1},{"x":155,"y":93.6,"v":1},{"x":160,"y":93.6,"v":1},{"x":165,"y":93.6,"v":1},{"x":170,"y":93.6,"v":1},{"x":175,"y":93.6,"v":1},{"x":180,"y":93.6,"v":1},{"x":185,"y":93.6,"v":1},{"x":190,"y":93.6,"v":1},{"x":195,"y":93.6,"v":1},{"x":200,"y":93.6,"v":1},{"x":205,"y":93.6,"v":1},{"x":210,"y":93.6,"v":1},{"x":215,"y":93.6,"v":1},{"x":220,"y":93.6,"v":0.93},{"x":225,"y":93.6,"v":1},{"x":230,"y":93.6,"v":1},{"x":235,"y":93.6,"v":1},{"x":240,"y":93.6,"v":1},{"x":245,"y":93.6,"v":1},
{"x":0,"y":97.4,"v":1},{"x":5,"y":97.4,"v":1},{"x":10,"y":97.4,"v":1},{"x":15,"y":97.4,"v":1},{"x":20,"y":97.4,"v":1},{"x":25,"y":97.4,"v":1},{"x":30,"y":97.4,"v":1},{"x":35,"y":97.4,"v":1},{"x":40,"y":97.4,"v":1},{"x":45,"y":97.4,"v":1},{"x":50,"y":97.4,"v":1},{"x":55,"y":97.4,"v":1},{"x":60,"y":97.4,"v":1},{"x":65,"y":97.4,"v":1},{"x":70,"y":97.4,"v":1},{"x":75,"y":97.4,"v":1},{"x":80,"y":97.4,"v":1},{"x":85,"y":97.4,"v":1},{"x":90,"y":97.4,"v":1},{"x":95,"y":97.4,"v":1},{"x":100,"y":97.4,"v":1},{"x":105,"y":97.4,"v":1},{"x":110,"y":97.4,"v":1},{"x":115,"y":97.4,"v":1},{"x":120,"y":97.4,"v":1},{"x":125,"y":97.4,"v":1},{"x":130,"y":97.4,"v":1},{"x":135,"y":97.4,"v":1},{"x":140,"y":97.4,"v":1},{"x":145,"y":97.4,"v":1},{"x":150,"y":97.4,"v":1},{"x":155,"y":97.4,"v":1},{"x":160,"y":97.4,"v":1},{"x":165,"y":97.4,"v":1},{"x":170,"y":97.4,"v":1},{"x":175,"y":97.4,"v":1},{"x":180,"y":97.4,"v":1},{"x":185,"y":97.4,"v":1},{"x":190,"y":97.4,"v":1},{"x":195,"y":97.4,"v":1},{"x":200,"y":97.4,"v":1},{"x":205,"y":97.4,"v":1},{"x":210,"y":97.4,"v":1},{"x":215,"y":97.4,"v":1},{"x":220,"y":97.4,"v":1},{"x":225,"y":97.4,"v":1},{"x":230,"y":97.4,"v":1},{"x":235,"y":97.4,"v":1},{"x":240,"y":97.4,"v":1},{"x":245,"y":97.4,"v":1},
{"x":0,"y":101.2,"v":1},{"x":5,"y":101.2,"v":1},{"x":10,"y":101.2,"v":1},{"x":15,"y":101.2,"v":1},{"x":20,"y":101.2,"v":1},{"x":25,"y":101.2,"v":1},{"x":30,"y":101.2,"v":1},{"x":35,"y":101.2,"v":1},{"x":40,"y":101.2,"v":1},{"x":45,"y":101.2,"v":1},{"x":50,"y":101.2,"v":1},{"x":55,"y":101.2,"v":1},{"x":60,"y":101.2,"v":1},{"x":65,"y":101.2,"v":1},{"x":70,"y":101.2,"v":1},{"x":75,"y":101.2,"v":1},{"x":80,"y":101.2,"v":1},{"x":85,"y":101.2,"v":1},{"x":90,"y":101.2,"v":1},{"x":95,"y":101.2,"v":1},{"x":100,"y":101.2,"v":1},{"x":105,"y":101.2,"v":1},{"x":110,"y":101.2,"v":1},{"x":115,"y":101.2,"v":1},{"x":120,"y":101.2,"v":1},{"x":125,"y":101.2,"v":1},{"x":130,"y":101.2,"v":1},{"x":135,"y":101.2,"v":1},{"x":140,"y":101.2,"v":1},{"x":145,"y":101.2,"v":1},{"x":150,"y":101.2,"v":1},{"x":155,"y":101.2,"v":1},{"x":160,"y":101.2,"v":1},{"x":165,"y":101.2,"v":1},{"x":170,"y":101.2,"v":1},{"x":175,"y":101.2,"v":1},{"x":180,"y":101.2,"v":1},{"x":185,"y":101.2,"v":1},{"x":190,"y":101.2,"v":1},{"x":195,"y":101.2,"v":1},{"x":200,"y":101.2,"v":1},{"x":205,"y":101.2,"v":1},{"x":210,"y":101.2,"v":1},{"x":215,"y":101.2,"v":1},{"x":220,"y":101.2,"v":1},{"x":225,"y":101.2,"v":1},{"x":230,"y":101.2,"v":1},{"x":235,"y":101.2,"v":1},{"x":240,"y":101.2,"v":1},{"x":245,"y":101.2,"v":0.93},
{"x":0,"y":105,"v":1},{"x":5,"y":105,"v":1},{"x":10,"y":105,"v":1},{"x":15,"y":105,"v":1},{"x":20,"y":105,"v":1},{"x":25,"y":105,"v":1},{"x":30,"y":105,"v":1},{"x":35,"y":105,"v":1},{"x":40,"y":105,"v":1},{"x":45,"y":105,"v":1},{"x":50,"y":105,"v":1},{"x":55,"y":105,"v":1},{"x":60,"y":105,"v":1},{"x":65,"y":105,"v":1},{"x":70,"y":105,"v":1},{"x":75,"y":105,"v":1},{"x":80,"y":105,"v":1},{"x":85,"y":105,"v":1},{"x":90,"y":105,"v":1},{"x":95,"y":105,"v":1},{"x":100,"y":105,"v":1},{"x":105,"y":105,"v":1},{"x":110,"y":105,"v":1},{"x":115,"y":105,"v":1},{"x":120,"y":105,"v":1},{"x":125,"y":105,"v":1},{"x":130,"y":105,"v":1},{"x":135,"y":105,"v":1},{"x":140,"y":105,"v":1},{"x":145,"y":105,"v":1},{"x":150,"y":105,"v":1},{"x":155,"y":105,"v":1},{"x":160,"y":105,"v":1},{"x":165,"y":105,"v":1},{"x":170,"y":105,"v":1},{"x":175,"y":105,"v":1},{"x":180,"y":105,"v":1},{"x":185,"y":105,"v":1},{"x":190,"y":105,"v":1},{"x":195,"y":105,"v":1},{"x":200,"y":105,"v":1},{"x":205,"y":105,"v":1},{"x":210,"y":105,"v":1},{"x":215,"y":105,"v":1},{"x":220,"y":105,"v":1},{"x":225,"y":105,"v":1},{"x":230,"y":105,"v":1},{"x":235,"y":105,"v":1},{"x":240,"y":105,"v":1},{"x":245,"y":105,"v":1},
{"x":0,"y":108.8,"v":1},{"x":5,"y":108.8,"v":1},{"x":10,"y":108.8,"v":1},{"x":15,"y":108.8,"v":1},{"x":20,"y":108.8,"v":1},{"x":25,"y":108.8,"v":1},{"x":30,"y":108.8,"v":1},{"x":35,"y":108.8,"v":1},{"x":40,"y":108.8,"v":1},{"x":45,"y":108.8,"v":1},{"x":50,"y":108.8,"v":1},{"x":55,"y":108.8,"v":1},{"x":60,"y":108.8,"v":1},{"x":65,"y":108.8,"v":1},{"x":70,"y":108.8,"v":1},{"x":75,"y":108.8,"v":1},{"x":80,"y":108.8,"v":1},{"x":85,"y":108.8,"v":1},{"x":90,"y":108.8,"v":1},{"x":95,"y":108.8,"v":1},{"x":100,"y":108.8,"v":1},{"x":105,"y":108.8,"v":1},{"x":110,"y":108.8,"v":1},{"x":115,"y":108.8,"v":1},{"x":120,"y":108.8,"v":1},{"x":125,"y":108.8,"v":1},{"x":130,"y":108.8,"v":1},{"x":135,"y":108.8,"v":1},{"x":140,"y":108.8,"v":1},{"x":145,"y":108.8,"v":1},{"x":150,"y":108.8,"v":1},{"x":155,"y":108.8,"v":1},{"x":160,"y":108.8,"v":1},{"x":165,"y":108.8,"v":1},{"x":170,"y":108.8,"v":1},{"x":175,"y":108.8,"v":1},{"x":180,"y":108.8,"v":1},{"x":185,"y":108.8,"v":1},{"x":190,"y":108.8,"v":1},{"x":195,"y":108.8,"v":1},{"x":200,"y":108.8,"v":1},{"x":205,"y":108.8,"v":1},{"x":210,"y":108.8,"v":1},{"x":215,"y":108.8,"v":1},{"x":220,"y":108.8,"v":1},{"x":225,"y":108.8,"v":1},{"x":230,"y":108.8,"v":1},{"x":235,"y":108.8,"v":1},{"x":240,"y":108.8,"v":1},{"x":245,"y":108.8,"v":1},
{"x":0,"y":112.6,"v":1},{"x":5,"y":112.6,"v":1},{"x":10,"y":112.6,"v":1},{"x":15,"y":112.6,"v":1},{"x":20,"y":112.6,"v":1},{"x":25,"y":112.6,"v":1},{"x":30,"y":112.6,"v":1},{"x":35,"y":112.6,"v":1},{"x":40,"y":112.6,"v":1},{"x":45,"y":112.6,"v":1},{"x":50,"y":112.6,"v":1},{"x":55,"y":112.6,"v":1},{"x":60,"y":112.6,"v":1},{"x":65,"y":112.6,"v":1},{"x":70,"y":112.6,"v":1},{"x":75,"y":112.6,"v":1},{"x":80,"y":112.6,"v":1},{"x":85,"y":112.6,"v":1},{"x":90,"y":112.6,"v":1},{"x":95,"y":112.6,"v":1},{"x":100,"y":112.6,"v":1},{"x":105,"y":112.6,"v":1},{"x":110,"y":112.6,"v":1},{"x":115,"y":112.6,"v":1},{"x":120,"y":112.6,"v":1},{"x":125,"y":112.6,"v":1},{"x":130,"y":112.6,"v":1},{"x":135,"y":112.6,"v":1},{"x":140,"y":112.6,"v":1},{"x":145,"y":112.6,"v":1},{"x":150,"y":112.6,"v":1},{"x":155,"y":112.6,"v":1},{"x":160,"y":112.6,"v":1},{"x":165,"y":112.6,"v":1},{"x":170,"y":112.6,"v":1},{"x":175,"y":112.6,"v":1},{"x":180,"y":112.6,"v":1},{"x":185,"y":112.6,"v":1},{"x":190,"y":112.6,"v":1},{"x":195,"y":112.6,"v":1},{"x":200,"y":112.6,"v":1},{"x":205,"y":112.6,"v":1},{"x":210,"y":112.6,"v":1},{"x":215,"y":112.6,"v":1},{"x":220,"y":112.6,"v":1},{"x":225,"y":112.6,"v":1},{"x":230,"y":112.6,"v":1},{"x":235,"y":112.6,"v":1},{"x":240,"y":112.6,"v":1},{"x":245,"y":112.6,"v":1},
{"x":0,"y":116.4,"v":1},{"x":5,"y":116.4,"v":1},{"x":10,"y":116.4,"v":1},{"x":15,"y":116.4,"v":1},{"x":20,"y":116.4,"v":1},{"x":25,"y":116.4,"v":1},{"x":30,"y":116.4,"v":1},{"x":35,"y":116.4,"v":1},{"x":40,"y":116.4,"v":1},{"x":45,"y":116.4,"v":1},{"x":50,"y":116.4,"v":1},{"x":55,"y":116.4,"v":1},{"x":60,"y":116.4,"v":1},{"x":65,"y":116.4,"v":1},{"x":70,"y":116.4,"v":1},{"x":75,"y":116.4,"v":1},{"x":80,"y":116.4,"v":1},{"x":85,"y":116.4,"v":1},{"x":90,"y":116.4,"v":1},{"x":95,"y":116.4,"v":1},{"x":100,"y":116.4,"v":1},{"x":105,"y":116.4,"v":1},{"x":110,"y":116.4,"v":1},{"x":115,"y":116.4,"v":1},{"x":120,"y":116.4,"v":1},{"x":125,"y":116.4,"v":1},{"x":130,"y":116.4,"v":1},{"x":135,"y":116.4,"v":1},{"x":140,"y":116.4,"v":1},{"x":145,"y":116.4,"v":1},{"x":150,"y":116.4,"v":1},{"x":155,"y":116.4,"v":1},{"x":160,"y":116.4,"v":1},{"x":165,"y":116.4,"v":1},{"x":170,"y":116.4,"v":1},{"x":175,"y":116.4,"v":1},{"x":180,"y":116.4,"v":1},{"x":185,"y":116.4,"v":1},{"x":190,"y":116.4,"v":1},{"x":195,"y":116.4,"v":1},{"x":200,"y":116.4,"v":1},{"x":205,"y":116.4,"v":1},{"x":210,"y":116.4,"v":1},{"x":215,"y":116.4,"v":1},{"x":220,"y":116.4,"v":1},{"x":225,"y":116.4,"v":1},{"x":230,"y":116.4,"v":1},{"x":235,"y":116.4,"v":1},{"x":240,"y":116.4,"v":1},{"x":245,"y":116.4,"v":1},
{"x":0,"y":120.2,"v":1},{"x":5,"y":120.2,"v":1},{"x":10,"y":120.2,"v":1},{"x":15,"y":120.2,"v":1},{"x":20,"y":120.2,"v":1},{"x":25,"y":120.2,"v":1},{"x":30,"y":120.2,"v":1},{"x":35,"y":120.2,"v":1},{"x":40,"y":120.2,"v":1},{"x":45,"y":120.2,"v":1},{"x":50,"y":120.2,"v":1},{"x":55,"y":120.2,"v":1},{"x":60,"y":120.2,"v":1},{"x":65,"y":120.2,"v":1},{"x":70,"y":120.2,"v":1},{"x":75,"y":120.2,"v":1},{"x":80,"y":120.2,"v":1},{"x":85,"y":120.2,"v":1},{"x":90,"y":120.2,"v":1},{"x":95,"y":120.2,"v":1},{"x":100,"y":120.2,"v":1},{"x":105,"y":120.2,"v":1},{"x":110,"y":120.2,"v":1},{"x":115,"y":120.2,"v":1},{"x":120,"y":120.2,"v":1},{"x":125,"y":120.2,"v":1},{"x":130,"y":120.2,"v":1},{"x":135,"y":120.2,"v":1},{"x":140,"y":120.2,"v":1},{"x":145,"y":120.2,"v":1},{"x":150,"y":120.2,"v":1},{"x":155,"y":120.2,"v":1},{"x":160,"y":120.2,"v":1},{"x":165,"y":120.2,"v":1},{"x":170,"y":120.2,"v":1},{"x":175,"y":120.2,"v":1},{"x":180,"y":120.2,"v":1},{"x":185,"y":120.2,"v":1},{"x":190,"y":120.2,"v":1},{"x":195,"y":120.2,"v":1},{"x":200,"y":120.2,"v":1},{"x":205,"y":120.2,"v":1},{"x":210,"y":120.2,"v":1},{"x":215,"y":120.2,"v":1},{"x":220,"y":120.2,"v":1},{"x":225,"y":120.2,"v":1},{"x":230,"y":120.2,"v":1},{"x":235,"y":120.2,"v":1},{"x":240,"y":120.2,"v":1},{"x":245,"y":120.2,"v":1},
{"x":0,"y":124,"v":1},{"x":5,"y":124,"v":1},{"x":10,"y":124,"v":1},{"x":15,"y":124,"v":1},{"x":20,"y":124,"v":1},{"x":25,"y":124,"v":1},{"x":30,"y":124,"v":1},{"x":35,"y":124,"v":1},{"x":40,"y":124,"v":1},{"x":45,"y":124,"v":1},{"x":50,"y":124,"v":1},{"x":55,"y":124,"v":1},{"x":60,"y":124,"v":1},{"x":65,"y":124,"v":1},{"x":70,"y":124,"v":1},{"x":75,"y":124,"v":1},{"x":80,"y":124,"v":1},{"x":85,"y":124,"v":1},{"x":90,"y":124,"v":1},{"x":95,"y":124,"v":1},{"x":100,"y":124,"v":1},{"x":105,"y":124,"v":1},{"x":110,"y":124,"v":1},{"x":115,"y":124,"v":1},{"x":120,"y":124,"v":1},{"x":125,"y":124,"v":1},{"x":130,"y":124,"v":1},{"x":135,"y":124,"v":1},{"x":140,"y":124,"v":1},{"x":145,"y":124,"v":1},{"x":150,"y":124,"v":1},{"x":155,"y":124,"v":1},{"x":160,"y":124,"v":1},{"x":165,"y":124,"v":1},{"x":170,"y":124,"v":1},{"x":175,"y":124,"v":1},{"x":180,"y":124,"v":1},{"x":185,"y":124,"v":1},{"x":190,"y":124,"v":1},{"x":195,"y":124,"v":1},{"x":200,"y":124,"v":1},{"x":205,"y":124,"v":1},{"x":210,"y":124,"v":1},{"x":215,"y":124,"v":1},{"x":220,"y":124,"v":1},{"x":225,"y":124,"v":1},{"x":230,"y":124,"v":1},{"x":235,"y":124,"v":1},{"x":240,"y":124,"v":1},{"x":245,"y":124,"v":1},
{"x":0,"y":127.8,"v":1},{"x":5,"y":127.8,"v":1},{"x":10,"y":127.8,"v":1},{"x":15,"y":127.8,"v":1},{"x":20,"y":127.8,"v":1},{"x":25,"y":127.8,"v":1},{"x":30,"y":127.8,"v":1},{"x":35,"y":127.8,"v":1},{"x":40,"y":127.8,"v":1},{"x":45,"y":127.8,"v":1},{"x":50,"y":127.8,"v":1},{"x":55,"y":127.8,"v":1},{"x":60,"y":127.8,"v":1},{"x":65,"y":127.8,"v":1},{"x":70,"y":127.8,"v":1},{"x":75,"y":127.8,"v":1},{"x":80,"y":127.8,"v":1},{"x":85,"y":127.8,"v":1},{"x":90,"y":127.8,"v":1},{"x":95,"y":127.8,"v":1},{"x":100,"y":127.8,"v":1},{"x":105,"y":127.8,"v":1},{"x":110,"y":127.8,"v":1},{"x":115,"y":127.8,"v":1},{"x":120,"y":127.8,"v":1},{"x":125,"y":127.8,"v":1},{"x":130,"y":127.8,"v":1},{"x":135,"y":127.8,"v":1},{"x":140,"y":127.8,"v":1},{"x":145,"y":127.8,"v":1},{"x":150,"y":127.8,"v":1},{"x":155,"y":127.8,"v":1},{"x":160,"y":127.8,"v":1},{"x":165,"y":127.8,"v":1},{"x":170,"y":127.8,"v":1},{"x":175,"y":127.8,"v":1},{"x":180,"y":127.8,"v":1},{"x":185,"y":127.8,"v":1},{"x":190,"y":127.8,"v":1},{"x":195,"y":127.8,"v":1},{"x":200,"y":127.8,"v":1},{"x":205,"y":127.8,"v":1},{"x":210,"y":127.8,"v":1},{"x":215,"y":127.8,"v":1},{"x":220,"y":127.8,"v":1},{"x":225,"y":127.8,"v":1},{"x":230,"y":127.8,"v":1},{"x":235,"y":127.8,"v":1},{"x":240,"y":127.8,"v":1},{"x":245,"y":127.8,"v":1},
{"x":0,"y":131.6,"v":1},{"x":5,"y":131.6,"v":1},{"x":10,"y":131.6,"v":1},{"x":15,"y":131.6,"v":1},{"x":20,"y":131.6,"v":1},{"x":25,"y":131.6,"v":1},{"x":30,"y":131.6,"v":1},{"x":35,"y":131.6,"v":1},{"x":40,"y":131.6,"v":1},{"x":45,"y":131.6,"v":1},{"x":50,"y":131.6,"v":1},{"x":55,"y":131.6,"v":1},{"x":60,"y":131.6,"v":1},{"x":65,"y":131.6,"v":1},{"x":70,"y":131.6,"v":1},{"x":75,"y":131.6,"v":1},{"x":80,"y":131.6,"v":1},{"x":85,"y":131.6,"v":1},{"x":90,"y":131.6,"v":1},{"x":95,"y":131.6,"v":1},{"x":100,"y":131.6,"v":1},{"x":105,"y":131.6,"v":0.93},{"x":110,"y":131.6,"v":1},{"x":115,"y":131.6,"v":1},{"x":120,"y":131.6,"v":1},{"x":125,"y":131.6,"v":1},{"x":130,"y":131.6,"v":1},{"x":135,"y":131.6,"v":1},{"x":140,"y":131.6,"v":1},{"x":145,"y":131.6,"v":1},{"x":150,"y":131.6,"v":1},{"x":155,"y":131.6,"v":1},{"x":160,"y":131.6,"v":1},{"x":165,"y":131.6,"v":1},{"x":170,"y":131.6,"v":1},{"x":175,"y":131.6,"v":1},{"x":180,"y":131.6,"v":1},{"x":185,"y":131.6,"v":1},{"x":190,"y":131.6,"v":1},{"x":195,"y":131.6,"v":1},{"x":200,"y":131.6,"v":1},{"x":205,"y":131.6,"v":1},{"x":210,"y":131.6,"v":1},{"x":215,"y":131.6,"v":1},{"x":220,"y":131.6,"v":1},{"x":225,"y":131.6,"v":1},{"x":230,"y":131.6,"v":1},{"x":235,"y":131.6,"v":1},{"x":240,"y":131.6,"v":1},{"x":245,"y":131.6,"v":1},
{"x":0,"y":135.4,"v":1},{"x":5,"y":135.4,"v":1},{"x":10,"y":135.4,"v":1},{"x":15,"y":135.4,"v":1},{"x":20,"y":135.4,"v":1},{"x":25,"y":135.4,"v":1},{"x":30,"y":135.4,"v":1},{"x":35,"y":135.4,"v":1},{"x":40,"y":135.4,"v":1},{"x":45,"y":135.4,"v":1},{"x":50,"y":135.4,"v":1},{"x":55,"y":135.4,"v":1},{"x":60,"y":135.4,"v":1},{"x":65,"y":135.4,"v":1},{"x":70,"y":135.4,"v":1},{"x":75,"y":135.4,"v":1},{"x":80,"y":135.4,"v":1},{"x":85,"y":135.4,"v":1},{"x":90,"y":135.4,"v":1},{"x":95,"y":135.4,"v":1},{"x":100,"y":135.4,"v":1},{"x":105,"y":135.4,"v":1},{"x":110,"y":135.4,"v":1},{"x":115,"y":135.4,"v":1},{"x":120,"y":135.4,"v":1},{"x":125,"y":135.4,"v":1},{"x":130,"y":135.4,"v":1},{"x":135,"y":135.4,"v":1},{"x":140,"y":135.4,"v":1},{"x":145,"y":135.4,"v":1},{"x":150,"y":135.4,"v":1},{"x":155,"y":135.4,"v":1},{"x":160,"y":135.4,"v":1},{"x":165,"y":135.4,"v":1},{"x":170,"y":135.4,"v":1},{"x":175,"y":135.4,"v":1},{"x":180,"y":135.4,"v":1},{"x":185,"y":135.4,"v":1},{"x":190,"y":135.4,"v":1},{"x":195,"y":135.4,"v":1},{"x":200,"y":135.4,"v":1},{"x":205,"y":135.4,"v":1},{"x":210,"y":135.4,"v":1},{"x":215,"y":135.4,"v":1},{"x":220,"y":135.4,"v":1},{"x":225,"y":135.4,"v":1},{"x":230,"y":135.4,"v":1},{"x":235,"y":135.4,"v":1},{"x":240,"y":135.4,"v":1},{"x":245,"y":135.4,"v":1},
{"x":0,"y":139.2,"v":1},{"x":5,"y":139.2,"v":1},{"x":10,"y":139.2,"v":1},{"x":15,"y":139.2,"v":1},{"x":20,"y":139.2,"v":1},{"x":25,"y":139.2,"v":1},{"x":30,"y":139.2,"v":1},{"x":35,"y":139.2,"v":1},{"x":40,"y":139.2,"v":1},{"x":45,"y":139.2,"v":1},{"x":50,"y":139.2,"v":1},{"x":55,"y":139.2,"v":1},{"x":60,"y":139.2,"v":1},{"x":65,"y":139.2,"v":1},{"x":70,"y":139.2,"v":1},{"x":75,"y":139.2,"v":1},{"x":80,"y":139.2,"v":1},{"x":85,"y":139.2,"v":1},{"x":90,"y":139.2,"v":1},{"x":95,"y":139.2,"v":1},{"x":100,"y":139.2,"v":1},{"x":105,"y":139.2,"v":1},{"x":110,"y":139.2,"v":1},{"x":115,"y":139.2,"v":1},{"x":120,"y":139.2,"v":1},{"x":125,"y":139.2,"v":1},{"x":130,"y":139.2,"v":1},{"x":135,"y":139.2,"v":1},{"x":140,"y":139.2,"v":1},{"x":145,"y":139.2,"v":1},{"x":150,"y":139.2,"v":1},{"x":155,"y":139.2,"v":1},{"x":160,"y":139.2,"v":1},{"x":165,"y":139.2,"v":1},{"x":170,"y":139.2,"v":1},{"x":175,"y":139.2,"v":1},{"x":180,"y":139.2,"v":1},{"x":185,"y":139.2,"v":1},{"x":190,"y":139.2,"v":1},{"x":195,"y":139.2,"v":1},{"x":200,"y":139.2,"v":1},{"x":205,"y":139.2,"v":1},{"x":210,"y":139.2,"v":1},{"x":215,"y":139.2,"v":1},{"x":220,"y":139.2,"v":1},{"x":225,"y":139.2,"v":1},{"x":230,"y":139.2,"v":1},{"x":235,"y":139.2,"v":1},{"x":240,"y":139.2,"v":1},{"x":245,"y":139.2,"v":1},
{"x":0,"y":143,"v":1},{"x":5,"y":143,"v":1},{"x":10,"y":143,"v":1},{"x":15,"y":143,"v":1},{"x":20,"y":143,"v":1},{"x":25,"y":143,"v":1},{"x":30,"y":143,"v":1},{"x":35,"y":143,"v":1},{"x":40,"y":143,"v":1},{"x":45,"y":143,"v":1},{"x":50,"y":143,"v":1},{"x":55,"y":143,"v":1},{"x":60,"y":143,"v":1},{"x":65,"y":143,"v":1},{"x":70,"y":143,"v":1},{"x":75,"y":143,"v":1},{"x":80,"y":143,"v":1},{"x":85,"y":143,"v":1},{"x":90,"y":143,"v":1},{"x":95,"y":143,"v":1},{"x":100,"y":143,"v":1},{"x":105,"y":143,"v":1},{"x":110,"y":143,"v":1},{"x":115,"y":143,"v":1},{"x":120,"y":143,"v":1},{"x":125,"y":143,"v":1},{"x":130,"y":143,"v":1},{"x":135,"y":143,"v":1},{"x":140,"y":143,"v":1},{"x":145,"y":143,"v":1},{"x":150,"y":143,"v":1},{"x":155,"y":143,"v":1},{"x":160,"y":143,"v":1},{"x":165,"y":143,"v":1},{"x":170,"y":143,"v":1},{"x":175,"y":143,"v":1},{"x":180,"y":143,"v":1},{"x":185,"y":143,"v":1},{"x":190,"y":143,"v":1},{"x":195,"y":143,"v":1},{"x":200,"y":143,"v":1},{"x":205,"y":143,"v":1},{"x":210,"y":143,"v":1},{"x":215,"y":143,"v":1},{"x":220,"y":143,"v":1},{"x":225,"y":143,"v":1},{"x":230,"y":143,"v":1},{"x":235,"y":143,"v":1},{"x":240,"y":143,"v":1},{"x":245,"y":143,"v":1},
{"x":0,"y":146.8,"v":1},{"x":5,"y":146.8,"v":1},{"x":10,"y":146.8,"v":1},{"x":15,"y":146.8,"v":1},{"x":20,"y":146.8,"v":1},{"x":25,"y":146.8,"v":1},{"x":30,"y":146.8,"v":1},{"x":35,"y":146.8,"v":1},{"x":40,"y":146.8,"v":1},{"x":45,"y":146.8,"v":1},{"x":50,"y":146.8,"v":1},{"x":55,"y":146.8,"v":1},{"x":60,"y":146.8,"v":1},{"x":65,"y":146.8,"v":1},{"x":70,"y":146.8,"v":1},{"x":75,"y":146.8,"v":1},{"x":80,"y":146.8,"v":1},{"x":85,"y":146.8,"v":1},{"x":90,"y":146.8,"v":1},{"x":95,"y":146.8,"v":1},{"x":100,"y":146.8,"v":1},{"x":105,"y":146.8,"v":1},{"x":110,"y":146.8,"v":1},{"x":115,"y":146.8,"v":1},{"x":120,"y":146.8,"v":1},{"x":125,"y":146.8,"v":1},{"x":130,"y":146.8,"v":1},{"x":135,"y":146.8,"v":1},{"x":140,"y":146.8,"v":1},{"x":145,"y":146.8,"v":1},{"x":150,"y":146.8,"v":1},{"x":155,"y":146.8,"v":1},{"x":160,"y":146.8,"v":1},{"x":165,"y":146.8,"v":1},{"x":170,"y":146.8,"v":1},{"x":175,"y":146.8,"v":1},{"x":180,"y":146.8,"v":1},{"x":185,"y":146.8,"v":1},{"x":190,"y":146.8,"v":1},{"x":195,"y":146.8,"v":1},{"x":200,"y":146.8,"v":1},{"x":205,"y":146.8,"v":1},{"x":210,"y":146.8,"v":1},{"x":215,"y":146.8,"v":1},{"x":220,"y":146.8,"v":1},{"x":225,"y":146.8,"v":1},{"x":230,"y":146.8,"v":1},{"x":235,"y":146.8,"v":1},{"x":240,"y":146.8,"v":1},{"x":245,"y":146.8,"v":1},
{"x":0,"y":150.6,"v":1},{"x":5,"y":150.6,"v":1},{"x":10,"y":150.6,"v":1},{"x":15,"y":150.6,"v":1},{"x":20,"y":150.6,"v":1},{"x":25,"y":150.6,"v":1},{"x":30,"y":150.6,"v":1},{"x":35,"y":150.6,"v":1},{"x":40,"y":150.6,"v":1},{"x":45,"y":150.6,"v":1},{"x":50,"y":150.6,"v":1},{"x":55,"y":150.6,"v":1},{"x":60,"y":150.6,"v":1},{"x":65,"y":150.6,"v":1},{"x":70,"y":150.6,"v":1},{"x":75,"y":150.6,"v":1},{"x":80,"y":150.6,"v":1},{"x":85,"y":150.6,"v":1},{"x":90,"y":150.6,"v":1},{"x":95,"y":150.6,"v":1},{"x":100,"y":150.6,"v":1},{"x":105,"y":150.6,"v":1},{"x":110,"y":150.6,"v":1},{"x":115,"y":150.6,"v":1},{"x":120,"y":150.6,"v":1},{"x":125,"y":150.6,"v":1},{"x":130,"y":150.6,"v":1},{"x":135,"y":150.6,"v":1},{"x":140,"y":150.6,"v":1},{"x":145,"y":150.6,"v":1},{"x":150,"y":150.6,"v":1},{"x":155,"y":150.6,"v":1},{"x":160,"y":150.6,"v":1},{"x":165,"y":150.6,"v":1},{"x":170,"y":150.6,"v":1},{"x":175,"y":150.6,"v":1},{"x":180,"y":150.6,"v":1},{"x":185,"y":150.6,"v":1},{"x":190,"y":150.6,"v":1},{"x":195,"y":150.6,"v":1},{"x":200,"y":150.6,"v":1},{"x":205,"y":150.6,"v":1},{"x":210,"y":150.6,"v":1},{"x":215,"y":150.6,"v":1},{"x":220,"y":150.6,"v":1},{"x":225,"y":150.6,"v":1},{"x":230,"y":150.6,"v":1},{"x":235,"y":150.6,"v":1},{"x":240,"y":150.6,"v":1},{"x":245,"y":150.6,"v":1},
{"x":0,"y":154.4,"v":1},{"x":5,"y":154.4,"v":1},{"x":10,"y":154.4,"v":1},{"x":15,"y":154.4,"v":1},{"x":20,"y":154.4,"v":1},{"x":25,"y":154.4,"v":1},{"x":30,"y":154.4,"v":1},{"x":35,"y":154.4,"v":1},{"x":40,"y":154.4,"v":1},{"x":45,"y":154.4,"v":1},{"x":50,"y":154.4,"v":1},{"x":55,"y":154.4,"v":1},{"x":60,"y":154.4,"v":1},{"x":65,"y":154.4,"v":1},{"x":70,"y":154.4,"v":1},{"x":75,"y":154.4,"v":1},{"x":80,"y":154.4,"v":1},{"x":85,"y":154.4,"v":1},{"x":90,"y":154.4,"v":1},{"x":95,"y":154.4,"v":1},{"x":100,"y":154.4,"v":1},{"x":105,"y":154.4,"v":1},{"x":110,"y":154.4,"v":1},{"x":115,"y":154.4,"v":1},{"x":120,"y":154.4,"v":1},{"x":125,"y":154.4,"v":1},{"x":130,"y":154.4,"v":1},{"x":135,"y":154.4,"v":1},{"x":140,"y":154.4,"v":1},{"x":145,"y":154.4,"v":1},{"x":150,"y":154.4,"v":1},{"x":155,"y":154.4,"v":1},{"x":160,"y":154.4,"v":1},{"x":165,"y":154.4,"v":1},{"x":170,"y":154.4,"v":1},{"x":175,"y":154.4,"v":1},{"x":180,"y":154.4,"v":1},{"x":185,"y":154.4,"v":1},{"x":190,"y":154.4,"v":1},{"x":195,"y":154.4,"v":1},{"x":200,"y":154.4,"v":1},{"x":205,"y":154.4,"v":1},{"x":210,"y":154.4,"v":1},{"x":215,"y":154.4,"v":1},{"x":220,"y":154.4,"v":1},{"x":225,"y":154.4,"v":1},{"x":230,"y":154.4,"v":1},{"x":235,"y":154.4,"v":1},{"x":240,"y":154.4,"v":1},{"x":245,"y":154.4,"v":1},
{"x":0,"y":158.2,"v":1},{"x":5,"y":158.2,"v":1},{"x":10,"y":158.2,"v":1},{"x":15,"y":158.2,"v":1},{"x":20,"y":158.2,"v":1},{"x":25,"y":158.2,"v":1},{"x":30,"y":158.2,"v":1},{"x":35,"y":158.2,"v":1},{"x":40,"y":158.2,"v":1},{"x":45,"y":158.2,"v":1},{"x":50,"y":158.2,"v":1},{"x":55,"y":158.2,"v":1},{"x":60,"y":158.2,"v":1},{"x":65,"y":158.2,"v":1},{"x":70,"y":158.2,"v":1},{"x":75,"y":158.2,"v":1},{"x":80,"y":158.2,"v":1},{"x":85,"y":158.2,"v":1},{"x":90,"y":158.2,"v":1},{"x":95,"y":158.2,"v":1},{"x":100,"y":158.2,"v":1},{"x":105,"y":158.2,"v":1},{"x":110,"y":158.2,"v":1},{"x":115,"y":158.2,"v":1},{"x":120,"y":158.2,"v":1},{"x":125,"y":158.2,"v":1},{"x":130,"y":158.2,"v":1},{"x":135,"y":158.2,"v":1},{"x":140,"y":158.2,"v":1},{"x":145,"y":158.2,"v":1},{"x":150,"y":158.2,"v":1},{"x":155,"y":158.2,"v":1},{"x":160,"y":158.2,"v":1},{"x":165,"y":158.2,"v":1},{"x":170,"y":158.2,"v":1},{"x":175,"y":158.2,"v":1},{"x":180,"y":158.2,"v":1},{"x":185,"y":158.2,"v":1},{"x":190,"y":158.2,"v":1},{"x":195,"y":158.2,"v":1},{"x":200,"y":158.2,"v":1},{"x":205,"y":158.2,"v":1},{"x":210,"y":158.2,"v":1},{"x":215,"y":158.2,"v":1},{"x":220,"y":158.2,"v":1},{"x":225,"y":158.2,"v":1},{"x":230,"y":158.2,"v":1},{"x":235,"y":158.2,"v":1},{"x":240,"y":158.2,"v":1},{"x":245,"y":158.2,"v":1},
{"x":0,"y":162,"v":1},{"x":5,"y":162,"v":1},{"x":10,"y":162,"v":1},{"x":15,"y":162,"v":1},{"x":20,"y":162,"v":1},{"x":25,"y":162,"v":1},{"x":30,"y":162,"v":1},{"x":35,"y":162,"v":1},{"x":40,"y":162,"v":1},{"x":45,"y":162,"v":1},{"x":50,"y":162,"v":1},{"x":55,"y":162,"v":1},{"x":60,"y":162,"v":1},{"x":65,"y":162,"v":1},{"x":70,"y":162,"v":1},{"x":75,"y":162,"v":1},{"x":80,"y":162,"v":1},{"x":85,"y":162,"v":1},{"x":90,"y":162,"v":1},{"x":95,"y":162,"v":1},{"x":100,"y":162,"v":1},{"x":105,"y":162,"v":1},{"x":110,"y":162,"v":1},{"x":115,"y":162,"v":1},{"x":120,"y":162,"v":1},{"x":125,"y":162,"v":1},{"x":130,"y":162,"v":1},{"x":135,"y":162,"v":1},{"x":140,"y":162,"v":1},{"x":145,"y":162,"v":1},{"x":150,"y":162,"v":1},{"x":155,"y":162,"v":1},{"x":160,"y":162,"v":1},{"x":165,"y":162,"v":1},{"x":170,"y":162,"v":1},{"x":175,"y":162,"v":1},{"x":180,"y":162,"v":1},{"x":185,"y":162,"v":1},{"x":190,"y":162,"v":1},{"x":195,"y":162,"v":1},{"x":200,"y":162,"v":1},{"x":205,"y":162,"v":1},{"x":210,"y":162,"v":1},{"x":215,"y":162,"v":1},{"x":220,"y":162,"v":1},{"x":225,"y":162,"v":1},{"x":230,"y":162,"v":1},{"x":235,"y":162,"v":1},{"x":240,"y":162,"v":1},{"x":245,"y":162,"v":1},
{"x":0,"y":165.8,"v":1},{"x":5,"y":165.8,"v":1},{"x":10,"y":165.8,"v":1},{"x":15,"y":165.8,"v":1},{"x":20,"y":165.8,"v":1},{"x":25,"y":165.8,"v":1},{"x":30,"y":165.8,"v":1},{"x":35,"y":165.8,"v":1},{"x":40,"y":165.8,"v":1},{"x":45,"y":165.8,"v":1},{"x":50,"y":165.8,"v":1},{"x":55,"y":165.8,"v":1},{"x":60,"y":165.8,"v":1},{"x":65,"y":165.8,"v":1},{"x":70,"y":165.8,"v":1},{"x":75,"y":165.8,"v":1},{"x":80,"y":165.8,"v":1},{"x":85,"y":165.8,"v":1},{"x":90,"y":165.8,"v":1},{"x":95,"y":165.8,"v":1},{"x":100,"y":165.8,"v":1},{"x":105,"y":165.8,"v":1},{"x":110,"y":165.8,"v":1},{"x":115,"y":165.8,"v":1},{"x":120,"y":165.8,"v":1},{"x":125,"y":165.8,"v":1},{"x":130,"y":165.8,"v":1},{"x":135,"y":165.8,"v":1},{"x":140,"y":165.8,"v":1},{"x":145,"y":165.8,"v":1},{"x":150,"y":165.8,"v":1},{"x":155,"y":165.8,"v":1},{"x":160,"y":165.8,"v":1},{"x":165,"y":165.8,"v":1},{"x":170,"y":165.8,"v":1},{"x":175,"y":165.8,"v":1},{"x":180,"y":165.8,"v":1},{"x":185,"y":165.8,"v":1},{"x":190,"y":165.8,"v":1},{"x":195,"y":165.8,"v":1},{"x":200,"y":165.8,"v":1},{"x":205,"y":165.8,"v":1},{"x":210,"y":165.8,"v":1},{"x":215,"y":165.8,"v":1},{"x":220,"y":165.8,"v":1},{"x":225,"y":165.8,"v":1},{"x":230,"y":165.8,"v":1},{"x":235,"y":165.8,"v":1},{"x":240,"y":165.8,"v":1},{"x":245,"y":165.8,"v":1},
{"x":0,"y":169.6,"v":1},{"x":5,"y":169.6,"v":1},{"x":10,"y":169.6,"v":1},{"x":15,"y":169.6,"v":1},{"x":20,"y":169.6,"v":1},{"x":25,"y":169.6,"v":1},{"x":30,"y":169.6,"v":1},{"x":35,"y":169.6,"v":1},{"x":40,"y":169.6,"v":1},{"x":45,"y":169.6,"v":1},{"x":50,"y":169.6,"v":1},{"x":55,"y":169.6,"v":1},{"x":60,"y":169.6,"v":1},{"x":65,"y":169.6,"v":1},{"x":70,"y":169.6,"v":1},{"x":75,"y":169.6,"v":1},{"x":80,"y":169.6,"v":1},{"x":85,"y":169.6,"v":1},{"x":90,"y":169.6,"v":1},{"x":95,"y":169.6,"v":1},{"x":100,"y":169.6,"v":1},{"x":105,"y":169.6,"v":1},{"x":110,"y":169.6,"v":1},{"x":115,"y":169.6,"v":1},{"x":120,"y":169.6,"v":1},{"x":125,"y":169.6,"v":1},{"x":130,"y":169.6,"v":1},{"x":135,"y":169.6,"v":1},{"x":140,"y":169.6,"v":1},{"x":145,"y":169.6,"v":1},{"x":150,"y":169.6,"v":1},{"x":155,"y":169.6,"v":1},{"x":160,"y":169.6,"v":1},{"x":165,"y":169.6,"v":1},{"x":170,"y":169.6,"v":1},{"x":175,"y":169.6,"v":1},{"x":180,"y":169.6,"v":1},{"x":185,"y":169.6,"v":1},{"x":190,"y":169.6,"v":1},{"x":195,"y":169.6,"v":1},{"x":200,"y":169.6,"v":1},{"x":205,"y":169.6,"v":1},{"x":210,"y":169.6,"v":1},{"x":215,"y":169.6,"v":1},{"x":220,"y":169.6,"v":1},{"x":225,"y":169.6,"v":1},{"x":230,"y":169.6,"v":1},{"x":235,"y":169.6,"v":1},{"x":240,"y":169.6,"v":1},{"x":245,"y":169.6,"v":1},
{"x":0,"y":173.4,"v":1},{"x":5,"y":173.4,"v":1},{"x":10,"y":173.4,"v":1},{"x":15,"y":173.4,"v":1},{"x":20,"y":173.4,"v":1},{"x":25,"y":173.4,"v":1},{"x":30,"y":173.4,"v":1},{"x":35,"y":173.4,"v":1},{"x":40,"y":173.4,"v":1},{"x":45,"y":173.4,"v":1},{"x":50,"y":173.4,"v":1},{"x":55,"y":173.4,"v":1},{"x":60,"y":173.4,"v":1},{"x":65,"y":173.4,"v":1},{"x":70,"y":173.4,"v":1},{"x":75,"y":173.4,"v":1},{"x":80,"y":173.4,"v":1},{"x":85,"y":173.4,"v":1},{"x":90,"y":173.4,"v":1},{"x":95,"y":173.4,"v":1},{"x":100,"y":173.4,"v":1},{"x":105,"y":173.4,"v":1},{"x":110,"y":173.4,"v":1},{"x":115,"y":173.4,"v":1},{"x":120,"y":173.4,"v":1},{"x":125,"y":173.4,"v":1},{"x":130,"y":173.4,"v":1},{"x":135,"y":173.4,"v":1},{"x":140,"y":173.4,"v":1},{"x":145,"y":173.4,"v":1},{"x":150,"y":173.4,"v":1},{"x":155,"y":173.4,"v":1},{"x":160,"y":173.4,"v":1},{"x":165,"y":173.4,"v":1},{"x":170,"y":173.4,"v":1},{"x":175,"y":173.4,"v":1},{"x":180,"y":173.4,"v":1},{"x":185,"y":173.4,"v":1},{"x":190,"y":173.4,"v":1},{"x":195,"y":173.4,"v":1},{"x":200,"y":173.4,"v":1},{"x":205,"y":173.4,"v":1},{"x":210,"y":173.4,"v":1},{"x":215,"y":173.4,"v":1},{"x":220,"y":173.4,"v":1},{"x":225,"y":173.4,"v":1},{"x":230,"y":173.4,"v":1},{"x":235,"y":173.4,"v":1},{"x":240,"y":173.4,"v":1},{"x":245,"y":173.4,"v":1},
{"x":0,"y":177.2,"v":1},{"x":5,"y":177.2,"v":1},{"x":10,"y":177.2,"v":1},{"x":15,"y":177.2,"v":1},{"x":20,"y":177.2,"v":1},{"x":25,"y":177.2,"v":1},{"x":30,"y":177.2,"v":1},{"x":35,"y":177.2,"v":1},{"x":40,"y":177.2,"v":1},{"x":45,"y":177.2,"v":1},{"x":50,"y":177.2,"v":1},{"x":55,"y":177.2,"v":1},{"x":60,"y":177.2,"v":1},{"x":65,"y":177.2,"v":1},{"x":70,"y":177.2,"v":1},{"x":75,"y":177.2,"v":1},{"x":80,"y":177.2,"v":1},{"x":85,"y":177.2,"v":1},{"x":90,"y":177.2,"v":1},{"x":95,"y":177.2,"v":1},{"x":100,"y":177.2,"v":1},{"x":105,"y":177.2,"v":1},{"x":110,"y":177.2,"v":1},{"x":115,"y":177.2,"v":1},{"x":120,"y":177.2,"v":1},{"x":125,"y":177.2,"v":1},{"x":130,"y":177.2,"v":1},{"x":135,"y":177.2,"v":1},{"x":140,"y":177.2,"v":1},{"x":145,"y":177.2,"v":1},{"x":150,"y":177.2,"v":1},{"x":155,"y":177.2,"v":1},{"x":160,"y":177.2,"v":1},{"x":165,"y":177.2,"v":1},{"x":170,"y":177.2,"v":1},{"x":175,"y":177.2,"v":1},{"x":180,"y":177.2,"v":1},{"x":185,"y":177.2,"v":1},{"x":190,"y":177.2,"v":1},{"x":195,"y":177.2,"v":1},{"x":200,"y":177.2,"v":1},{"x":205,"y":177.2,"v":1},{"x":210,"y":177.2,"v":1},{"x":215,"y":177.2,"v":1},{"x":220,"y":177.2,"v":1},{"x":225,"y":177.2,"v":1},{"x":230,"y":177.2,"v":1},{"x":235,"y":177.2,"v":1},{"x":240,"y":177.2,"v":1},{"x":245,"y":177.2,"v":1},
{"x":0,"y":181,"v":1},{"x":5,"y":181,"v":1},{"x":10,"y":181,"v":1},{"x":15,"y":181,"v":1},{"x":20,"y":181,"v":1},{"x":25,"y":181,"v":1},{"x":30,"y":181,"v":1},{"x":35,"y":181,"v":1},{"x":40,"y":181,"v":1},{"x":45,"y":181,"v":1},{"x":50,"y":181,"v":1},{"x":55,"y":181,"v":1},{"x":60,"y":181,"v":1},{"x":65,"y":181,"v":1},{"x":70,"y":181,"v":1},{"x":75,"y":181,"v":1},{"x":80,"y":181,"v":1},{"x":85,"y":181,"v":1},{"x":90,"y":181,"v":1},{"x":95,"y":181,"v":1},{"x":100,"y":181,"v":1},{"x":105,"y":181,"v":1},{"x":110,"y":181,"v":1},{"x":115,"y":181,"v":1},{"x":120,"y":181,"v":1},{"x":125,"y":181,"v":1},{"x":130,"y":181,"v":1},{"x":135,"y":181,"v":1},{"x":140,"y":181,"v":1},{"x":145,"y":181,"v":1},{"x":150,"y":181,"v":1},{"x":155,"y":181,"v":1},{"x":160,"y":181,"v":1},{"x":165,"y":181,"v":1},{"x":170,"y":181,"v":1},{"x":175,"y":181,"v":1},{"x":180,"y":181,"v":1},{"x":185,"y":181,"v":1},{"x":190,"y":181,"v":1},{"x":195,"y":181,"v":1},{"x":200,"y":181,"v":1},{"x":205,"y":181,"v":1},{"x":210,"y":181,"v":1},{"x":215,"y":181,"v":1},{"x":220,"y":181,"v":1},{"x":225,"y":181,"v":1},{"x":230,"y":181,"v":1},{"x":235,"y":181,"v":1},{"x":240,"y":181,"v":1},{"x":245,"y":181,"v":1},
{"x":0,"y":184.8,"v":1},{"x":5,"y":184.8,"v":1},{"x":10,"y":184.8,"v":1},{"x":15,"y":184.8,"v":1},{"x":20,"y":184.8,"v":1},{"x":25,"y":184.8,"v":1},{"x":30,"y":184.8,"v":1},{"x":35,"y":184.8,"v":1},{"x":40,"y":184.8,"v":1},{"x":45,"y":184.8,"v":1},{"x":50,"y":184.8,"v":1},{"x":55,"y":184.8,"v":1},{"x":60,"y":184.8,"v":1},{"x":65,"y":184.8,"v":1},{"x":70,"y":184.8,"v":1},{"x":75,"y":184.8,"v":1},{"x":80,"y":184.8,"v":1},{"x":85,"y":184.8,"v":1},{"x":90,"y":184.8,"v":1},{"x":95,"y":184.8,"v":1},{"x":100,"y":184.8,"v":1},{"x":105,"y":184.8,"v":1},{"x":110,"y":184.8,"v":1},{"x":115,"y":184.8,"v":1},{"x":120,"y":184.8,"v":1},{"x":125,"y":184.8,"v":1},{"x":130,"y":184.8,"v":1},{"x":135,"y":184.8,"v":1},{"x":140,"y":184.8,"v":1},{"x":145,"y":184.8,"v":1},{"x":150,"y":184.8,"v":1},{"x":155,"y":184.8,"v":1},{"x":160,"y":184.8,"v":1},{"x":165,"y":184.8,"v":1},{"x":170,"y":184.8,"v":1},{"x":175,"y":184.8,"v":1},{"x":180,"y":184.8,"v":1},{"x":185,"y":184.8,"v":1},{"x":190,"y":184.8,"v":1},{"x":195,"y":184.8,"v":1},{"x":200,"y":184.8,"v":1},{"x":205,"y":184.8,"v":1},{"x":210,"y":184.8,"v":1},{"x":215,"y":184.8,"v":1},{"x":220,"y":184.8,"v":1},{"x":225,"y":184.8,"v":1},{"x":230,"y":184.8,"v":1},{"x":235,"y":184.8,"v":1},{"x":240,"y":184.8,"v":1},{"x":245,"y":184.8,"v":1},
{"x":0,"y":188.6,"v":1},{"x":5,"y":188.6,"v":1},{"x":10,"y":188.6,"v":1},{"x":15,"y":188.6,"v":1},{"x":20,"y":188.6,"v":1},{"x":25,"y":188.6,"v":1},{"x":30,"y":188.6,"v":1},{"x":35,"y":188.6,"v":1},{"x":40,"y":188.6,"v":1},{"x":45,"y":188.6,"v":1},{"x":50,"y":188.6,"v":1},{"x":55,"y":188.6,"v":1},{"x":60,"y":188.6,"v":1},{"x":65,"y":188.6,"v":1},{"x":70,"y":188.6,"v":1},{"x":75,"y":188.6,"v":1},{"x":80,"y":188.6,"v":1},{"x":85,"y":188.6,"v":1},{"x":90,"y":188.6,"v":1},{"x":95,"y":188.6,"v":1},{"x":100,"y":188.6,"v":1},{"x":105,"y":188.6,"v":1},{"x":110,"y":188.6,"v":1},{"x":115,"y":188.6,"v":1},{"x":120,"y":188.6,"v":1},{"x":125,"y":188.6,"v":1},{"x":130,"y":188.6,"v":1},{"x":135,"y":188.6,"v":1},{"x":140,"y":188.6,"v":1},{"x":145,"y":188.6,"v":1},{"x":150,"y":188.6,"v":1},{"x":155,"y":188.6,"v":1},{"x":160,"y":188.6,"v":1},{"x":165,"y":188.6,"v":1},{"x":170,"y":188.6,"v":1},{"x":175,"y":188.6,"v":1},{"x":180,"y":188.6,"v":1},{"x":185,"y":188.6,"v":1},{"x":190,"y":188.6,"v":1},{"x":195,"y":188.6,"v":1},{"x":200,"y":188.6,"v":1},{"x":205,"y":188.6,"v":1},{"x":210,"y":188.6,"v":1},{"x":215,"y":188.6,"v":1},{"x":220,"y":188.6,"v":1},{"x":225,"y":188.6,"v":1},{"x":230,"y":188.6,"v":1},{"x":235,"y":188.6,"v":1},{"x":240,"y":188.6,"v":1},{"x":245,"y":188.6,"v":1},
{"x":0,"y":192.4,"v":1},{"x":5,"y":192.4,"v":1},{"x":10,"y":192.4,"v":1},{"x":15,"y":192.4,"v":1},{"x":20,"y":192.4,"v":1},{"x":25,"y":192.4,"v":1},{"x":30,"y":192.4,"v":1},{"x":35,"y":192.4,"v":1},{"x":40,"y":192.4,"v":1},{"x":45,"y":192.4,"v":1},{"x":50,"y":192.4,"v":1},{"x":55,"y":192.4,"v":1},{"x":60,"y":192.4,"v":1},{"x":65,"y":192.4,"v":1},{"x":70,"y":192.4,"v":1},{"x":75,"y":192.4,"v":1},{"x":80,"y":192.4,"v":1},{"x":85,"y":192.4,"v":1},{"x":90,"y":192.4,"v":1},{"x":95,"y":192.4,"v":1},{"x":100,"y":192.4,"v":1},{"x":105,"y":192.4,"v":1},{"x":110,"y":192.4,"v":1},{"x":115,"y":192.4,"v":1},{"x":120,"y":192.4,"v":1},{"x":125,"y":192.4,"v":1},{"x":130,"y":192.4,"v":1},{"x":135,"y":192.4,"v":1},{"x":140,"y":192.4,"v":1},{"x":145,"y":192.4,"v":1},{"x":150,"y":192.4,"v":1},{"x":155,"y":192.4,"v":1},{"x":160,"y":192.4,"v":1},{"x":165,"y":192.4,"v":1},{"x":170,"y":192.4,"v":1},{"x":175,"y":192.4,"v":1},{"x":180,"y":192.4,"v":1},{"x":185,"y":192.4,"v":1},{"x":190,"y":192.4,"v":1},{"x":195,"y":192.4,"v":1},{"x":200,"y":192.4,"v":1},{"x":205,"y":192.4,"v":1},{"x":210,"y":192.4,"v":1},{"x":215,"y":192.4,"v":1},{"x":220,"y":192.4,"v":1},{"x":225,"y":192.4,"v":1},{"x":230,"y":192.4,"v":1},{"x":235,"y":192.4,"v":1},{"x":240,"y":192.4,"v":1},{"x":245,"y":192.4,"v":1},
{"x":0,"y":196.2,"v":1},{"x":5,"y":196.2,"v":1},{"x":10,"y":196.2,"v":1},{"x":15,"y":196.2,"v":1},{"x":20,"y":196.2,"v":1},{"x":25,"y":196.2,"v":1},{"x":30,"y":196.2,"v":1},{"x":35,"y":196.2,"v":1},{"x":40,"y":196.2,"v":1},{"x":45,"y":196.2,"v":1},{"x":50,"y":196.2,"v":1},{"x":55,"y":196.2,"v":1},{"x":60,"y":196.2,"v":1},{"x":65,"y":196.2,"v":1},{"x":70,"y":196.2,"v":1},{"x":75,"y":196.2,"v":1},{"x":80,"y":196.2,"v":1},{"x":85,"y":196.2,"v":1},{"x":90,"y":196.2,"v":1},{"x":95,"y":196.2,"v":1},{"x":100,"y":196.2,"v":1},{"x":105,"y":196.2,"v":1},{"x":110,"y":196.2,"v":1},{"x":115,"y":196.2,"v":1},{"x":120,"y":196.2,"v":1},{"x":125,"y":196.2,"v":1},{"x":130,"y":196.2,"v":1},{"x":135,"y":196.2,"v":1},{"x":140,"y":196.2,"v":1},{"x":145,"y":196.2,"v":1},{"x":150,"y":196.2,"v":1},{"x":155,"y":196.2,"v":1},{"x":160,"y":196.2,"v":1},{"x":165,"y":196.2,"v":1},{"x":170,"y":196.2,"v":1},{"x":175,"y":196.2,"v":1},{"x":180,"y":196.2,"v":1},{"x":185,"y":196.2,"v":1},{"x":190,"y":196.2,"v":1},{"x":195,"y":196.2,"v":1},{"x":200,"y":196.2,"v":1},{"x":205,"y":196.2,"v":1},{"x":210,"y":196.2,"v":1},{"x":215,"y":196.2,"v":1},{"x":220,"y":196.2,"v":1},{"x":225,"y":196.2,"v":1},{"x":230,"y":196.2,"v":1},{"x":235,"y":196.2,"v":1},{"x":240,"y":196.2,"v":1},{"x":245,"y":196.2,"v":1}
]
},
"spacing": 7,
"hconcat": [
{
"width": 1048, "height": 715,
"view": {"stroke": "black", "strokeWidth": 4},
"data": {"name": "cells"},
"layer": [
{
"mark": {"type": "rect", "strokeWidth": 1},
"encoding": {
"x": {"field": "x", "type": "quantitative", "bin": {"binned": true, "step": 5}, "scale": {"domain": [0, 250], "nice": false, "zero": false},
 "axis": {"orient": "bottom", "values": [0, 50, 100, 150, 200, 250], "tickSize": -21, "tickWidth": 1.5, "labelFontSize": 26, "labelPadding": 26, "labelFlush": false, "labelOverlap": false, "zindex": 1,
  "title": "distance from PMT plane (cm)", "titleFontSize": 70.5, "titleX": 1032, "titleAlign": "right", "titlePadding": 32}},
"y": {"field": "y", "type": "quantitative", "bin": {"binned": true, "step": 3.8}, "scale": {"domain": [10, 200], "nice": false, "zero": false},
 "axis": {"orient": "left", "values": [20, 40, 60, 80, 100, 120, 140, 160, 180, 200], "tickSize": -32, "tickWidth": 1.5, "labelFontSize": 26, "labelPadding": 40, "labelFlush": false, "labelOverlap": false, "zindex": 1,
  "title": "kinetic energy (MeV)", "titleFontSize": 72.5, "titlePadding": 30}},
"color": {"field": "v", "type": "quantitative", "scale": {"type": "threshold", "domain": [0.05,0.1,0.15,0.2,0.25,0.3,0.35,0.4,0.45,0.5,0.55,0.6,0.65,0.7,0.75,0.8,0.85,0.9,0.95], "range": ["#6300FF","#3300FF","#0014FF","#0044FF","#008BFF","#00BBFF","#00FFFC","#00FFCC","#00FF85","#00FF55","#00FF0E","#22FF00","#69FF00","#99FF00","#E0FF00","#FFEE00","#FFA700","#FF7700","#FF3000","#FF0000"]}, "legend": null},
"stroke": {"field": "v", "type": "quantitative", "scale": {"type": "threshold", "domain": [0.05,0.1,0.15,0.2,0.25,0.3,0.35,0.4,0.45,0.5,0.55,0.6,0.65,0.7,0.75,0.8,0.85,0.9,0.95], "range": ["#6300FF","#3300FF","#0014FF","#0044FF","#008BFF","#00BBFF","#00FFFC","#00FFCC","#00FF85","#00FF55","#00FF0E","#22FF00","#69FF00","#99FF00","#E0FF00","#FFEE00","#FFA700","#FF7700","#FF3000","#FF0000"]}, "legend": null}
}
},
{
"transform": [{"aggregate": [{"op": "min", "field": "x", "as": "x"}, {"op": "min", "field": "y", "as": "y"}]}],
"mark": {"type": "point", "opacity": 0},
"encoding": {
"x": {"field": "x", "type": "quantitative", "axis": {"orient": "bottom", "values": [10,20,30,40,60,70,80,90,110,120,130,140,160,170,180,190,210,220,230,240], "tickSize": -11, "tickWidth": 1.5, "labels": false, "title": null, "zindex": 1}},
"y": {"field": "y", "type": "quantitative", "axis": {"orient": "left", "values": [15,25,30,35,45,50,55,65,70,75,85,90,95,105,110,115,125,130,135,145,150,155,165,170,175,185,190,195], "tickSize": -16, "tickWidth": 1.5, "labels": false, "title": null, "zindex": 1}}
}
}
],
"resolve": {"axis": {"x": "independent", "y": "independent"}}
},
{
"width": 59, "height": 715,
"data": {"name": "bar"},
"mark": "rect",
"encoding": {
"y": {"field": "lo", "type": "quantitative", "bin": {"binned": true, "step": 0.05}, "scale": {"domain": [0, 1], "nice": false, "zero": false},
 "axis": {"orient": "right", "values": [0,0.1,0.2,0.3,0.4,0.5,0.6,0.7,0.8,0.9,1], "format": "~g", "tickSize": -32, "tickWidth": 1.5, "labelFontSize": 26, "labelPadding": 37, "labelFlush": false, "labelOverlap": false, "zindex": 1, "domain": true, "domainColor": "black", "domainWidth": 1.5, "title": null,
  "labelBaseline": {"condition": {"test": "datum.value === 1", "value": "top"}, "value": "middle"}}},
"x": {"value": 0},
"x2": {"value": "width"},
"color": {"field": "lo", "type": "quantitative", "scale": {"type": "threshold", "domain": [0.05,0.1,0.15,0.2,0.25,0.3,0.35,0.4,0.45,0.5,0.55,0.6,0.65,0.7,0.75,0.8,0.85,0.9,0.95], "range": ["#6300FF","#3300FF","#0014FF","#0044FF","#008BFF","#00BBFF","#00FFFC","#00FFCC","#00FF85","#00FF55","#00FF0E","#22FF00","#69FF00","#99FF00","#E0FF00","#FFEE00","#FFA700","#FF7700","#FF3000","#FF0000"]}, "legend": null}
}
}
]
}
